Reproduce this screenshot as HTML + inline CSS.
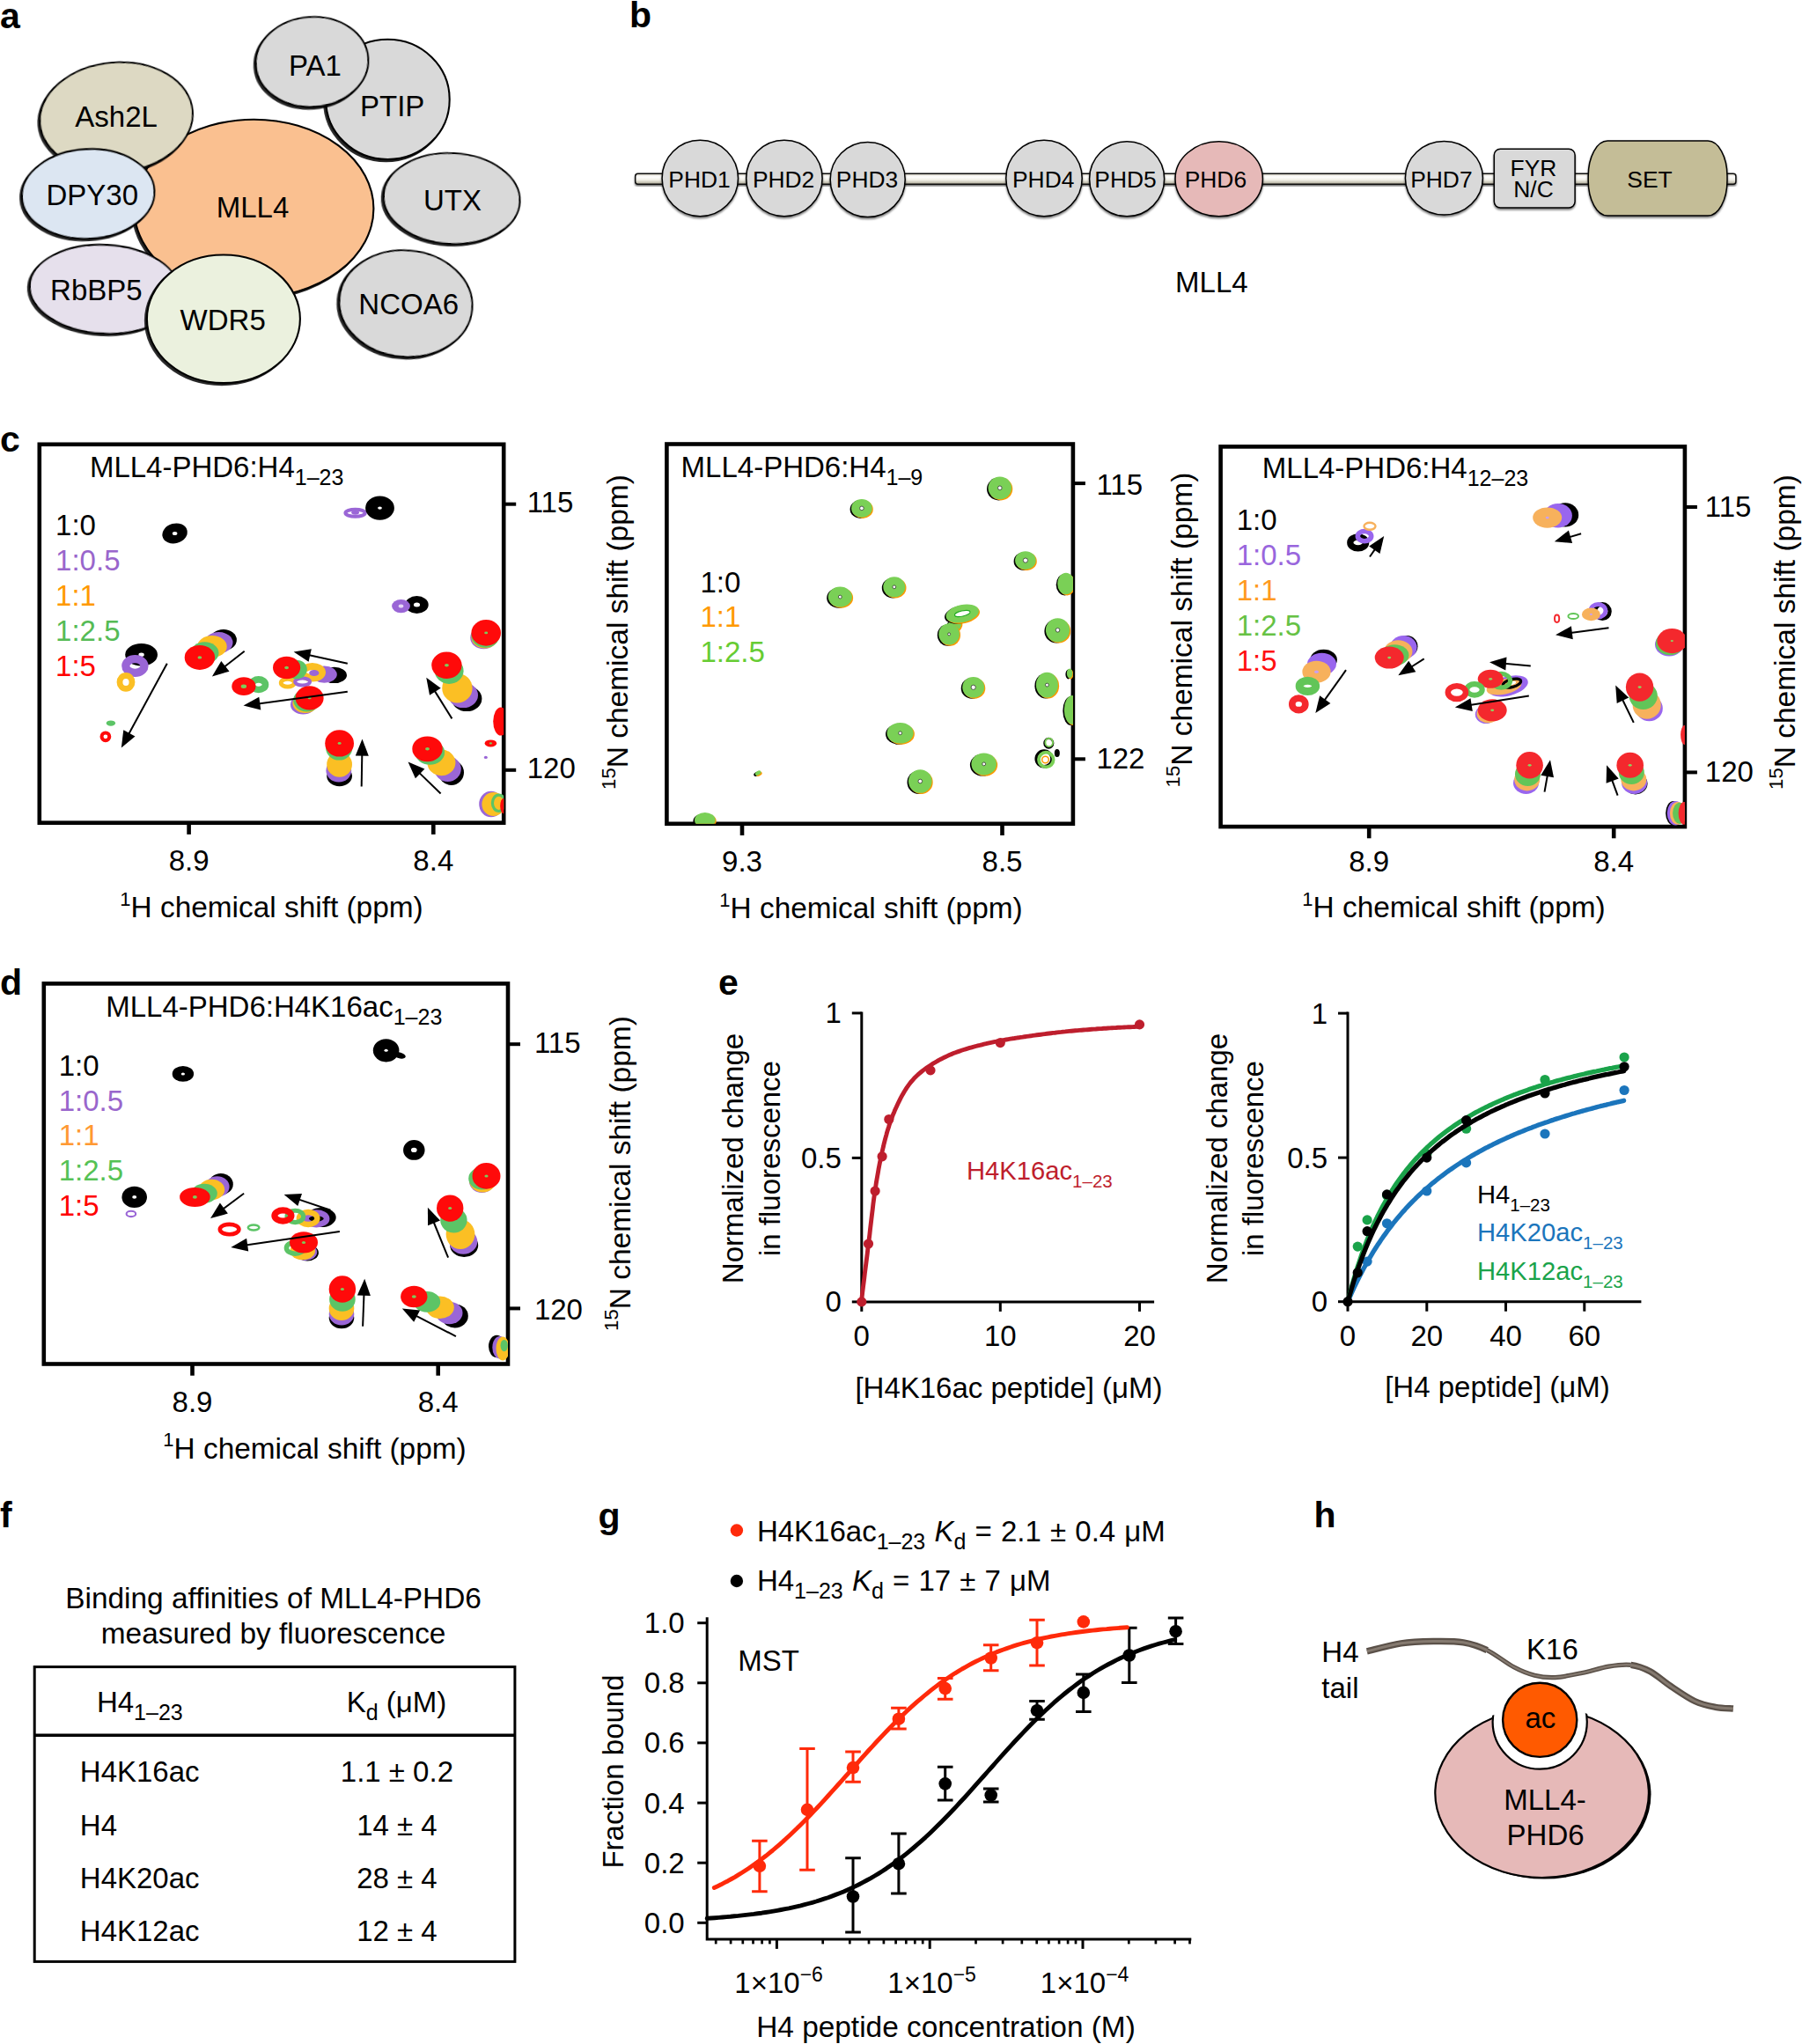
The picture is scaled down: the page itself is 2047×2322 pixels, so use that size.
<!DOCTYPE html>
<html><head><meta charset="utf-8"><title>Figure</title>
<style>html,body{margin:0;padding:0;background:#fff}svg{display:block}text{font-family:"Liberation Sans", sans-serif}</style>
</head><body>
<svg width="2047" height="2322" viewBox="0 0 2047 2322">
<defs>
<filter id="sh" x="-10%" y="-10%" width="120%" height="120%"><feDropShadow dx="-1.9" dy="2" stdDeviation="0.7" flood-color="#000" flood-opacity="0.85"/></filter>
<filter id="sh2" x="-10%" y="-20%" width="120%" height="140%"><feDropShadow dx="0" dy="1.8" stdDeviation="1.2" flood-color="#000" flood-opacity="0.55"/></filter>
<linearGradient id="bar" x1="0" y1="0" x2="0" y2="1"><stop offset="0" stop-color="#cfcabb"/><stop offset="0.3" stop-color="#ffffff"/><stop offset="0.6" stop-color="#f1efe6"/><stop offset="1" stop-color="#aaa693"/></linearGradient>
</defs>
<rect width="2047" height="2322" fill="#fff"/>

<g id="panel_a">
<g stroke="#000" stroke-width="2.1">
<ellipse filter="url(#sh)" cx="288.4" cy="236.9" rx="136" ry="101.2" fill="#FAC090"/>
<ellipse filter="url(#sh)" cx="132.1" cy="133.2" rx="87" ry="62.2" fill="#DDD9C3" transform="rotate(-5 132.1 133.2)"/>
<ellipse filter="url(#sh)" cx="100.2" cy="220.2" rx="75.3" ry="50.8" fill="#DCE6F2" transform="rotate(-3 100.2 220.2)"/>
<ellipse filter="url(#sh)" cx="119" cy="328.5" rx="85.2" ry="50.4" fill="#E6E0EC" transform="rotate(3 119 328.5)"/>
<ellipse filter="url(#sh)" cx="253.9" cy="362.3" rx="87" ry="72.8" fill="#EBF1DE"/>
<ellipse filter="url(#sh)" cx="440.4" cy="112.9" rx="70.3" ry="68.2" fill="#D9D9D9"/>
<ellipse filter="url(#sh)" cx="354.5" cy="70.3" rx="63.9" ry="51.1" fill="#D9D9D9" transform="rotate(-4 354.5 70.3)"/>
<ellipse filter="url(#sh)" cx="513.2" cy="225.5" rx="77.4" ry="51.5" fill="#D9D9D9" transform="rotate(3 513.2 225.5)"/>
<ellipse filter="url(#sh)" cx="461" cy="344.9" rx="75.6" ry="60.4" fill="#D9D9D9" transform="rotate(5 461 344.9)"/>
</g>
<text x="358" y="85.9" font-size="33" text-anchor="middle" >PA1</text>
<text x="445.7" y="132.1" font-size="33" text-anchor="middle" >PTIP</text>
<text x="132.1" y="143.8" font-size="33" text-anchor="middle" >Ash2L</text>
<text x="104.8" y="232.6" font-size="33" text-anchor="middle" >DPY30</text>
<text x="287" y="246.8" font-size="33" text-anchor="middle" >MLL4</text>
<text x="513.9" y="238.7" font-size="33" text-anchor="middle" >UTX</text>
<text x="109.4" y="341" font-size="33" text-anchor="middle" >RbBP5</text>
<text x="253.2" y="375.4" font-size="33" text-anchor="middle" >WDR5</text>
<text x="464.2" y="356.9" font-size="33" text-anchor="middle" >NCOA6</text>
</g>
<g id="panel_b">
<rect x="721.7" y="197.2" width="1250.2" height="12.1" rx="3" fill="url(#bar)" stroke="#111" stroke-width="1.5" filter="url(#sh2)"/>
<g stroke="#000" stroke-width="1.5">
<ellipse filter="url(#sh2)" cx="795.3" cy="202.5" rx="43.2" ry="43.2" fill="#D9D9D9"/>
<ellipse filter="url(#sh2)" cx="890.9" cy="202.5" rx="43.2" ry="43.2" fill="#D9D9D9"/>
<ellipse filter="url(#sh2)" cx="985.7" cy="204.1" rx="42.5" ry="42.5" fill="#D9D9D9"/>
<ellipse filter="url(#sh2)" cx="1186" cy="202.5" rx="43.2" ry="43.2" fill="#D9D9D9"/>
<ellipse filter="url(#sh2)" cx="1280.1" cy="203.3" rx="42.5" ry="42.5" fill="#D9D9D9"/>
<ellipse filter="url(#sh2)" cx="1384.7" cy="203.3" rx="49.7" ry="42.5" fill="#E6B9B8"/>
<ellipse filter="url(#sh2)" cx="1640.4" cy="202.2" rx="44" ry="41.7" fill="#D9D9D9"/>
<rect x="1697.3" y="169.2" width="91.8" height="66.8" rx="7" fill="#D9D9D9" filter="url(#sh2)"/>
<rect x="1804.2" y="160.1" width="157.8" height="85" rx="22" ry="40" fill="#C4BD97" filter="url(#sh2)"/>
</g>
<text x="794.5" y="213.2" font-size="26.4" text-anchor="middle" >PHD1</text>
<text x="890.1" y="213.2" font-size="26.4" text-anchor="middle" >PHD2</text>
<text x="985" y="213.2" font-size="26.4" text-anchor="middle" >PHD3</text>
<text x="1185.2" y="213.2" font-size="26.4" text-anchor="middle" >PHD4</text>
<text x="1278.5" y="213.2" font-size="26.4" text-anchor="middle" >PHD5</text>
<text x="1380.9" y="213.2" font-size="26.4" text-anchor="middle" >PHD6</text>
<text x="1637.4" y="213.2" font-size="26.4" text-anchor="middle" >PHD7</text>
<text x="1742" y="200.3" font-size="26.4" text-anchor="middle" >FYR</text>
<text x="1742" y="223.8" font-size="26.4" text-anchor="middle" >N/C</text>
<text x="1874" y="213.2" font-size="26.4" text-anchor="middle" >SET</text>
<text x="1376.4" y="331.5" font-size="33" text-anchor="middle" >MLL4</text>
</g>
<g id="panel_c1">
<rect x="44.8" y="504.8" width="527.4" height="429.9" fill="none" stroke="#000" stroke-width="4.6"/>
<line x1="572.2" y1="572.7" x2="586.2" y2="572.7" stroke="#000" stroke-width="3.9999999999999996"/>
<text x="598.7" y="582.3" font-size="33" >115</text>
<line x1="572.2" y1="874.8" x2="586.2" y2="874.8" stroke="#000" stroke-width="3.9999999999999996"/>
<text x="598.7" y="884.4" font-size="33" >120</text>
<line x1="214.6" y1="934.7" x2="214.6" y2="947.9" stroke="#000" stroke-width="4.6"/>
<text x="214.6" y="989.2" font-size="33" text-anchor="middle" >8.9</text>
<line x1="492.3" y1="934.7" x2="492.3" y2="947.9" stroke="#000" stroke-width="4.6"/>
<text x="492.3" y="989.2" font-size="33" text-anchor="middle" >8.4</text>
<clipPath id="cp1"><rect x="44.8" y="504.8" width="527.4" height="429.9"/></clipPath>
<g clip-path="url(#cp1)">
<ellipse cx="403.6" cy="582.7" rx="11.2" ry="4" fill="none" stroke="#9A66D6" stroke-width="4"/>
<ellipse cx="403.6" cy="582.3" rx="4.4" ry="2.4" fill="#9A66D6"/>
<ellipse cx="431.5" cy="577.1" rx="16.4" ry="13.6" fill="#000"/>
<ellipse cx="431.5" cy="577.1" rx="2.4" ry="1.7" fill="#fff"/>
<ellipse cx="198.6" cy="605.9" rx="14.4" ry="11.2" fill="#000" transform="rotate(-15 198.6 605.9)"/>
<ellipse cx="198.6" cy="605.9" rx="2.8" ry="2" fill="#fff"/>
<ellipse cx="473.5" cy="687" rx="13.2" ry="10" fill="#000"/>
<ellipse cx="473.5" cy="687" rx="3.6" ry="2.5" fill="#fff"/>
<ellipse cx="455.5" cy="688.6" rx="10.4" ry="7.6" fill="#9A66D6"/>
<ellipse cx="455.5" cy="688.6" rx="2.8" ry="2" fill="#e6d8f7"/>
<ellipse cx="549.4" cy="724.5" rx="15.2" ry="12.8" fill="#9A66D6"/>
<ellipse cx="550.6" cy="723.7" rx="15.2" ry="12.8" fill="#FBBF24"/>
<ellipse cx="551.4" cy="722.1" rx="16" ry="13.6" fill="#5CC466"/>
<ellipse cx="552.2" cy="718.9" rx="16.8" ry="14.8" fill="#FF0A0A"/>
<ellipse cx="552.2" cy="718.9" rx="2" ry="1.4" fill="#7CCB5A"/>
<ellipse cx="160.6" cy="743.7" rx="18.4" ry="12.8" fill="#000"/>
<ellipse cx="160.6" cy="743.7" rx="3.2" ry="2.2" fill="#fff"/>
<ellipse cx="153.4" cy="756.5" rx="10.6" ry="7.8" fill="none" stroke="#9A66D6" stroke-width="9.2"/>
<ellipse cx="143" cy="774.9" rx="7" ry="7.4" fill="none" stroke="#FBBF24" stroke-width="6.8"/>
<ellipse cx="253.7" cy="726.9" rx="15.2" ry="12" fill="#000"/>
<ellipse cx="248.5" cy="730.1" rx="16" ry="12" fill="#9A66D6"/>
<ellipse cx="240.9" cy="734.5" rx="16.8" ry="12.4" fill="#FBBF24"/>
<ellipse cx="232.5" cy="741.7" rx="16" ry="12.4" fill="#5CC466"/>
<ellipse cx="226.9" cy="746.9" rx="17.2" ry="14" fill="#FF0A0A"/>
<ellipse cx="226.9" cy="746.9" rx="2.4" ry="1.7" fill="#7CCB5A"/>
<ellipse cx="379.6" cy="766.9" rx="14.4" ry="9.2" fill="#000"/>
<ellipse cx="368.4" cy="766.1" rx="14.4" ry="9.6" fill="#9A66D6"/>
<ellipse cx="354.8" cy="763.7" rx="11" ry="6.6" fill="none" stroke="#FBBF24" stroke-width="8.4"/>
<ellipse cx="356.8" cy="764.5" rx="5.6" ry="3.6" fill="#9A66D6"/>
<ellipse cx="326.8" cy="775.7" rx="7.6" ry="4.4" fill="none" stroke="#FBBF24" stroke-width="4.8"/>
<ellipse cx="343.6" cy="774.5" rx="8.4" ry="4" fill="none" stroke="#9A66D6" stroke-width="4"/>
<ellipse cx="336.8" cy="760.5" rx="12" ry="10.8" fill="#5CC466"/>
<ellipse cx="325.6" cy="758.5" rx="15.6" ry="12.8" fill="#FF0A0A"/>
<ellipse cx="325.6" cy="758.5" rx="2.4" ry="1.7" fill="#7CCB5A"/>
<ellipse cx="293.7" cy="777.7" rx="7.8" ry="5.8" fill="none" stroke="#5CC466" stroke-width="7.6"/>
<ellipse cx="276.9" cy="779.7" rx="13.6" ry="10.4" fill="#FF0A0A"/>
<ellipse cx="276.9" cy="779.7" rx="3.2" ry="2.2" fill="#7CCB5A"/>
<ellipse cx="344.4" cy="800.4" rx="14.4" ry="11.2" fill="#9A66D6"/>
<ellipse cx="346.8" cy="798.8" rx="14.4" ry="11.2" fill="#FBBF24"/>
<ellipse cx="348.4" cy="795.6" rx="15.2" ry="12.8" fill="#5CC466"/>
<ellipse cx="351.6" cy="792.9" rx="16" ry="13.6" fill="#FF0A0A"/>
<ellipse cx="351.6" cy="792.9" rx="2" ry="1.4" fill="#7CCB5A"/>
<ellipse cx="530.2" cy="793.7" rx="17.2" ry="14.4" fill="#000"/>
<ellipse cx="526.2" cy="789.7" rx="16.8" ry="14.4" fill="#9A66D6"/>
<ellipse cx="519.4" cy="781.7" rx="17.2" ry="16.8" fill="#FBBF24"/>
<ellipse cx="510.2" cy="762.1" rx="16.4" ry="14.8" fill="#5CC466"/>
<ellipse cx="507.4" cy="755.7" rx="17.2" ry="15.2" fill="#FF0A0A"/>
<ellipse cx="507.4" cy="755.7" rx="2.4" ry="1.7" fill="#7CCB5A"/>
<ellipse cx="125.9" cy="821.6" rx="5.2" ry="3.2" fill="#5CC466"/>
<ellipse cx="119.9" cy="836.8" rx="4.4" ry="4.4" fill="none" stroke="#FF0A0A" stroke-width="4"/>
<ellipse cx="385.6" cy="881.6" rx="14.4" ry="11.6" fill="#000"/>
<ellipse cx="384.8" cy="875.6" rx="14.4" ry="12.8" fill="#9A66D6"/>
<ellipse cx="385.6" cy="868.4" rx="14.4" ry="14.4" fill="#FBBF24"/>
<ellipse cx="385.2" cy="849.2" rx="15.2" ry="14.4" fill="#5CC466"/>
<ellipse cx="385.6" cy="844.4" rx="16.4" ry="15.2" fill="#FF0A0A"/>
<ellipse cx="385.6" cy="844.4" rx="2" ry="1.4" fill="#7CCB5A"/>
<ellipse cx="512.6" cy="877.6" rx="14.4" ry="14.4" fill="#000"/>
<ellipse cx="508.6" cy="873.6" rx="15.2" ry="14.4" fill="#9A66D6"/>
<ellipse cx="501.4" cy="866.4" rx="16" ry="14.8" fill="#FBBF24"/>
<ellipse cx="488.3" cy="854.8" rx="16.8" ry="14" fill="#5CC466"/>
<ellipse cx="485.5" cy="850.8" rx="17.2" ry="14.4" fill="#FF0A0A"/>
<ellipse cx="485.5" cy="850.8" rx="2.4" ry="1.7" fill="#7CCB5A"/>
<ellipse cx="569" cy="819.6" rx="8.8" ry="16" fill="#FF0A0A"/>
<ellipse cx="557.4" cy="844.4" rx="6.8" ry="4" fill="#FF0A0A"/>
<ellipse cx="557.4" cy="844.4" rx="1.6" ry="1.1" fill="#7CCB5A"/>
<ellipse cx="551.8" cy="860.4" rx="2" ry="1.6" fill="#9A66D6"/>
<ellipse cx="557.8" cy="913.5" rx="13.6" ry="14.8" fill="#9A66D6"/>
<ellipse cx="560.6" cy="913.5" rx="13.2" ry="13.6" fill="#FBBF24"/>
<ellipse cx="566.6" cy="912.3" rx="7.2" ry="9.2" fill="none" stroke="#5CC466" stroke-width="3.2"/>
<ellipse cx="572.2" cy="915.5" rx="4" ry="8.8" fill="#FF0A0A"/>
</g>
<line x1="189.8" y1="753.7" x2="145.9" y2="834.6" stroke="#000" stroke-width="2"/>
<polygon points="137.8,849.6 140.3,829.3 153.5,836.5" fill="#000"/>
<line x1="277.7" y1="739.7" x2="254.3" y2="758" stroke="#000" stroke-width="2"/>
<polygon points="240.9,768.5 251.3,750.9 260.5,762.7" fill="#000"/>
<line x1="394.8" y1="753.7" x2="350.2" y2="744.1" stroke="#000" stroke-width="2"/>
<polygon points="333.6,740.5 353.8,737.2 350.6,751.8" fill="#000"/>
<line x1="394.8" y1="785.7" x2="293.3" y2="799.4" stroke="#000" stroke-width="2"/>
<polygon points="276.5,801.6 294.3,791.7 296.3,806.5" fill="#000"/>
<line x1="513.4" y1="816.4" x2="493.3" y2="784.1" stroke="#000" stroke-width="2"/>
<polygon points="484.3,769.7 500.7,781.8 488,789.8" fill="#000"/>
<line x1="410.7" y1="893.5" x2="411.3" y2="856.6" stroke="#000" stroke-width="2"/>
<polygon points="411.5,839.6 418.8,858.7 403.8,858.5" fill="#000"/>
<line x1="500.6" y1="901.5" x2="475.7" y2="877.4" stroke="#000" stroke-width="2"/>
<polygon points="463.5,865.6 482.4,873.4 471.9,884.2" fill="#000"/>
<text x="101.9" y="541.9" font-size="33" >MLL4-PHD6:H4<tspan font-size="25" dy="9">1–23</tspan><tspan dy="-9" font-size="1">&#8203;</tspan></text>
<text x="63.1" y="608.1" font-size="33" >1:0</text>
<text x="63.1" y="648" font-size="33" fill="#9966CC" >1:0.5</text>
<text x="63.1" y="688" font-size="33" fill="#FF9900" >1:1</text>
<text x="63.1" y="727.9" font-size="33" fill="#55BB55" >1:2.5</text>
<text x="63.1" y="767.9" font-size="33" fill="#FF0000" >1:5</text>
<text font-size="33.4" text-anchor="middle" x="308.5" y="1042.2"><tspan font-size="22" dy="-13.5">1</tspan><tspan dy="13.5" font-size="1">&#8203;</tspan>H chemical shift (ppm)</text>
<text font-size="33.5" text-anchor="middle" transform="translate(712.5 718) rotate(-90)"><tspan font-size="22.1" dy="-13.5">15</tspan><tspan dy="13.5" font-size="1">&#8203;</tspan>N chemical shift (ppm)</text>
</g>
<g id="panel_c2">
<rect x="757.4" y="504.5" width="461.5" height="431.3" fill="none" stroke="#000" stroke-width="4.6"/>
<line x1="1218.9" y1="549.1" x2="1232.9" y2="549.1" stroke="#000" stroke-width="3.9999999999999996"/>
<text x="1245.4" y="561.5" font-size="33" >115</text>
<line x1="1218.9" y1="862.3" x2="1232.9" y2="862.3" stroke="#000" stroke-width="3.9999999999999996"/>
<text x="1245.4" y="872.5" font-size="33" >122</text>
<line x1="843" y1="935.8" x2="843" y2="949" stroke="#000" stroke-width="4.6"/>
<text x="843" y="990.3" font-size="33" text-anchor="middle" >9.3</text>
<line x1="1138.5" y1="935.8" x2="1138.5" y2="949" stroke="#000" stroke-width="4.6"/>
<text x="1138.5" y="990.3" font-size="33" text-anchor="middle" >8.5</text>
<clipPath id="cp2"><rect x="757.4" y="504.5" width="461.5" height="431.3"/></clipPath>
<g clip-path="url(#cp2)">
<ellipse cx="1134.3" cy="555.5" rx="13.3" ry="12.9" fill="#000"/>
<ellipse cx="1137" cy="555.5" rx="13.3" ry="12.9" fill="#FF9900"/>
<ellipse cx="1135.8" cy="554.3" rx="13.3" ry="12.9" fill="#7AD056"/>
<circle cx="1135.8" cy="554.3" r="2.3" fill="#fff" stroke="#333" stroke-width="0.8"/>
<ellipse cx="977.4" cy="578.5" rx="11.8" ry="10.4" fill="#000"/>
<ellipse cx="980" cy="578.5" rx="11.8" ry="10.4" fill="#FF9900"/>
<ellipse cx="978.9" cy="577.4" rx="11.8" ry="10.4" fill="#7AD056"/>
<circle cx="978.9" cy="577.4" r="2.3" fill="#fff" stroke="#333" stroke-width="0.8"/>
<ellipse cx="1163.4" cy="637.7" rx="11.8" ry="10.4" fill="#000"/>
<ellipse cx="1166" cy="637.7" rx="11.8" ry="10.4" fill="#FF9900"/>
<ellipse cx="1164.9" cy="636.6" rx="11.8" ry="10.4" fill="#7AD056"/>
<circle cx="1164.9" cy="636.6" r="2.6" fill="#fff" stroke="#333" stroke-width="0.8"/>
<ellipse cx="1209.4" cy="664.2" rx="9.7" ry="12.2" fill="#000"/>
<ellipse cx="1212.1" cy="664.2" rx="9.7" ry="12.2" fill="#FF9900"/>
<ellipse cx="1210.9" cy="663" rx="9.7" ry="12.2" fill="#7AD056"/>
<ellipse cx="1014.3" cy="667.9" rx="12.5" ry="11.5" fill="#000"/>
<ellipse cx="1017" cy="667.9" rx="12.5" ry="11.5" fill="#FF9900"/>
<ellipse cx="1015.8" cy="666.8" rx="12.5" ry="11.5" fill="#7AD056"/>
<circle cx="1015.8" cy="666.8" r="1.9" fill="#fff" stroke="#333" stroke-width="0.8"/>
<ellipse cx="952.8" cy="679.2" rx="13.6" ry="11.5" fill="#000"/>
<ellipse cx="955.5" cy="679.2" rx="13.6" ry="11.5" fill="#FF9900"/>
<ellipse cx="954.3" cy="678.1" rx="13.6" ry="11.5" fill="#7AD056"/>
<circle cx="954.3" cy="678.1" r="1.9" fill="#fff" stroke="#333" stroke-width="0.8"/>
<ellipse cx="1083" cy="710.6" rx="7.2" ry="9.3" fill="#000" transform="rotate(30 1083 710.6)"/>
<ellipse cx="1085.7" cy="710.6" rx="7.2" ry="9.3" fill="#FF9900" transform="rotate(30 1085.7 710.6)"/>
<ellipse cx="1084.5" cy="709.4" rx="7.2" ry="9.3" fill="#7AD056" transform="rotate(30 1084.5 709.4)"/>
<ellipse cx="1091.7" cy="698.1" rx="19" ry="10" fill="#000" transform="rotate(-12 1091.7 698.1)"/>
<ellipse cx="1094.3" cy="698.1" rx="19" ry="10" fill="#FF9900" transform="rotate(-12 1094.3 698.1)"/>
<ellipse cx="1093.2" cy="697" rx="19" ry="10" fill="#7AD056" transform="rotate(-12 1093.2 697)"/>
<ellipse cx="1076.6" cy="721.5" rx="11.8" ry="12.2" fill="#000"/>
<ellipse cx="1079.2" cy="721.5" rx="11.8" ry="12.2" fill="#FF9900"/>
<ellipse cx="1078.1" cy="720.4" rx="11.8" ry="12.2" fill="#7AD056"/>
<circle cx="1078.1" cy="720.4" r="1.5" fill="#fff" stroke="#333" stroke-width="0.8"/>
<ellipse cx="1200" cy="717" rx="13.6" ry="13.6" fill="#000"/>
<ellipse cx="1202.6" cy="717" rx="13.6" ry="13.6" fill="#FF9900"/>
<ellipse cx="1201.5" cy="715.8" rx="13.6" ry="13.6" fill="#7AD056"/>
<circle cx="1201.5" cy="715.8" r="2.3" fill="#fff" stroke="#333" stroke-width="0.8"/>
<ellipse cx="1104.2" cy="781.9" rx="12.5" ry="11.8" fill="#000"/>
<ellipse cx="1106.8" cy="781.9" rx="12.5" ry="11.8" fill="#FF9900"/>
<ellipse cx="1105.7" cy="780.8" rx="12.5" ry="11.8" fill="#7AD056"/>
<circle cx="1105.7" cy="780.8" r="2.6" fill="#fff" stroke="#333" stroke-width="0.8"/>
<ellipse cx="1187.9" cy="779.2" rx="12.5" ry="14.3" fill="#000"/>
<ellipse cx="1190.6" cy="779.2" rx="12.5" ry="14.3" fill="#FF9900"/>
<ellipse cx="1189.4" cy="778.1" rx="12.5" ry="14.3" fill="#7AD056"/>
<circle cx="1189.4" cy="778.1" r="1.9" fill="#fff" stroke="#333" stroke-width="0.8"/>
<ellipse cx="1213.6" cy="766" rx="3.2" ry="5.4" fill="#000"/>
<ellipse cx="1216.2" cy="766" rx="3.2" ry="5.4" fill="#FF9900"/>
<ellipse cx="1215.1" cy="764.9" rx="3.2" ry="5.4" fill="#7AD056"/>
<ellipse cx="1216.6" cy="807.5" rx="9.3" ry="16.5" fill="#000"/>
<ellipse cx="1219.2" cy="807.5" rx="9.3" ry="16.5" fill="#FF9900"/>
<ellipse cx="1218.1" cy="806.4" rx="9.3" ry="16.5" fill="#7AD056"/>
<ellipse cx="1021.1" cy="834" rx="15.1" ry="11.8" fill="#000"/>
<ellipse cx="1023.8" cy="834" rx="15.1" ry="11.8" fill="#FF9900"/>
<ellipse cx="1022.6" cy="832.8" rx="15.1" ry="11.8" fill="#7AD056"/>
<circle cx="1022.6" cy="832.8" r="1.9" fill="#fff" stroke="#333" stroke-width="0.8"/>
<ellipse cx="1116.2" cy="869.1" rx="14.3" ry="12.5" fill="#000"/>
<ellipse cx="1118.9" cy="869.1" rx="14.3" ry="12.5" fill="#FF9900"/>
<ellipse cx="1117.7" cy="867.9" rx="14.3" ry="12.5" fill="#7AD056"/>
<circle cx="1117.7" cy="867.9" r="1.9" fill="#fff" stroke="#333" stroke-width="0.8"/>
<ellipse cx="1043.8" cy="888.7" rx="13.3" ry="13.3" fill="#000"/>
<ellipse cx="1046.4" cy="888.7" rx="13.3" ry="13.3" fill="#FF9900"/>
<ellipse cx="1045.3" cy="887.5" rx="13.3" ry="13.3" fill="#7AD056"/>
<circle cx="1045.3" cy="887.5" r="2.3" fill="#fff" stroke="#333" stroke-width="0.8"/>
<ellipse cx="859.6" cy="879.2" rx="3.6" ry="2.2" fill="#000" transform="rotate(-30 859.6 879.2)"/>
<ellipse cx="862.3" cy="879.2" rx="3.6" ry="2.2" fill="#FF9900" transform="rotate(-30 862.3 879.2)"/>
<ellipse cx="861.1" cy="878.1" rx="3.6" ry="2.2" fill="#7AD056" transform="rotate(-30 861.1 878.1)"/>
<ellipse cx="799.2" cy="932.8" rx="11.8" ry="8.6" fill="#000"/>
<ellipse cx="801.9" cy="932.8" rx="11.8" ry="8.6" fill="#FF9900"/>
<ellipse cx="800.8" cy="931.7" rx="11.8" ry="8.6" fill="#7AD056"/>
<ellipse cx="1093.2" cy="697" rx="9" ry="3" fill="#fff" stroke="#2a2" stroke-width="1" transform="rotate(-12 1093.2 697)"/>
<ellipse cx="1186" cy="861.9" rx="8.9" ry="8.9" fill="none" stroke="#000" stroke-width="3.4"/>
<ellipse cx="1188.3" cy="863" rx="8.3" ry="8.3" fill="none" stroke="#7AD056" stroke-width="3.8"/>
<ellipse cx="1187.5" cy="863" rx="3.8" ry="3.8" fill="none" stroke="#FF9900" stroke-width="1.5"/>
<ellipse cx="1191.3" cy="844.2" rx="4.9" ry="5.3" fill="none" stroke="#000" stroke-width="2.3"/>
<ellipse cx="1191.7" cy="843.4" rx="4.3" ry="4.7" fill="none" stroke="#7AD056" stroke-width="1.9"/>
<ellipse cx="1200.8" cy="855.5" rx="3" ry="4.5" fill="#000"/>
</g>
<text x="773.6" y="542.3" font-size="33" >MLL4-PHD6:H4<tspan font-size="25" dy="9">1–9</tspan><tspan dy="-9" font-size="1">&#8203;</tspan></text>
<text x="795.4" y="672.7" font-size="33" >1:0</text>
<text x="795.4" y="711.9" font-size="33" fill="#FF9900" >1:1</text>
<text x="795.4" y="751.9" font-size="33" fill="#66CC33" >1:2.5</text>
<text font-size="33.4" text-anchor="middle" x="989.5" y="1043.2"><tspan font-size="22" dy="-13.5">1</tspan><tspan dy="13.5" font-size="1">&#8203;</tspan>H chemical shift (ppm)</text>
<text font-size="33.5" text-anchor="middle" transform="translate(1353.5 715.5) rotate(-90)"><tspan font-size="22.1" dy="-13.5">15</tspan><tspan dy="13.5" font-size="1">&#8203;</tspan>N chemical shift (ppm)</text>
</g>
<g id="panel_c3">
<rect x="1386.6" y="507.4" width="527.3" height="431.7" fill="none" stroke="#000" stroke-width="4.6"/>
<line x1="1913.9" y1="576" x2="1927.9" y2="576" stroke="#000" stroke-width="3.9999999999999996"/>
<text x="1936.8" y="586.6" font-size="33" >115</text>
<line x1="1913.9" y1="877.4" x2="1927.9" y2="877.4" stroke="#000" stroke-width="3.9999999999999996"/>
<text x="1936.8" y="887.5" font-size="33" >120</text>
<line x1="1555.2" y1="939.1" x2="1555.2" y2="952.3" stroke="#000" stroke-width="4.6"/>
<text x="1555.2" y="990.4" font-size="33" text-anchor="middle" >8.9</text>
<line x1="1833.2" y1="939.1" x2="1833.2" y2="952.3" stroke="#000" stroke-width="4.6"/>
<text x="1833.2" y="990.4" font-size="33" text-anchor="middle" >8.4</text>
<clipPath id="cp3"><rect x="1386.6" y="507.4" width="527.3" height="431.7"/></clipPath>
<g clip-path="url(#cp3)">
<ellipse cx="1542.7" cy="616.4" rx="8.9" ry="6.5" fill="none" stroke="#000" stroke-width="7.3"/>
<ellipse cx="1550" cy="609.1" rx="7.7" ry="5.6" fill="none" stroke="#9966EE" stroke-width="5.6"/>
<ellipse cx="1556" cy="597.8" rx="6.5" ry="4" fill="none" stroke="#F7B15C" stroke-width="2.4"/>
<ellipse cx="1777.9" cy="584.9" rx="15.3" ry="13.7" fill="#000"/>
<ellipse cx="1769.8" cy="585.7" rx="16.1" ry="13.7" fill="#9966EE"/>
<ellipse cx="1757.7" cy="588.1" rx="16.5" ry="11.7" fill="#F7B15C"/>
<ellipse cx="1757.7" cy="588.1" rx="2" ry="1.4" fill="#c9a0f0"/>
<ellipse cx="1820.3" cy="694.6" rx="8.3" ry="8.3" fill="none" stroke="#000" stroke-width="4.4"/>
<ellipse cx="1815.4" cy="693.8" rx="8.5" ry="7.3" fill="none" stroke="#9966EE" stroke-width="4.8"/>
<ellipse cx="1807.4" cy="697.9" rx="10.5" ry="7.3" fill="#F7B15C"/>
<ellipse cx="1807.4" cy="697.9" rx="1.6" ry="1.1" fill="#c9a0f0"/>
<ellipse cx="1787.2" cy="699.9" rx="5.8" ry="3" fill="none" stroke="#62C558" stroke-width="2"/>
<ellipse cx="1768.6" cy="702.7" rx="2.6" ry="4.2" fill="none" stroke="#F4282D" stroke-width="2"/>
<ellipse cx="1896.1" cy="732.2" rx="16.1" ry="13.3" fill="#9966EE"/>
<ellipse cx="1896.9" cy="730.9" rx="16.1" ry="13.3" fill="#62C558"/>
<ellipse cx="1899.3" cy="728.1" rx="16.9" ry="14.1" fill="#F4282D"/>
<ellipse cx="1899.3" cy="728.1" rx="1.6" ry="1.1" fill="#8fd060"/>
<ellipse cx="1503.6" cy="749.5" rx="15.3" ry="11.7" fill="#000"/>
<ellipse cx="1501.5" cy="754.3" rx="16.5" ry="12.5" fill="#9966EE"/>
<ellipse cx="1495.5" cy="763.2" rx="16.1" ry="12.5" fill="#F7B15C"/>
<ellipse cx="1495.5" cy="763.2" rx="2.4" ry="1.7" fill="#c9a0f0"/>
<ellipse cx="1485.4" cy="779.4" rx="9.3" ry="6.1" fill="none" stroke="#62C558" stroke-width="8.9"/>
<ellipse cx="1475.3" cy="799.9" rx="7.5" ry="6.7" fill="none" stroke="#F4282D" stroke-width="7.7"/>
<ellipse cx="1598.4" cy="734.2" rx="12.1" ry="12.1" fill="#000"/>
<ellipse cx="1594.3" cy="735.4" rx="15.3" ry="13.3" fill="#9966EE"/>
<ellipse cx="1588.3" cy="740.2" rx="16.1" ry="12.9" fill="#F7B15C"/>
<ellipse cx="1584.3" cy="744.3" rx="16.1" ry="12.1" fill="#62C558"/>
<ellipse cx="1578.2" cy="747.1" rx="16.5" ry="12.5" fill="#F4282D"/>
<ellipse cx="1578.2" cy="747.1" rx="2" ry="1.4" fill="#8fd060"/>
<ellipse cx="1713.4" cy="779.4" rx="23" ry="10.9" fill="#9966EE" transform="rotate(-15 1713.4 779.4)"/>
<ellipse cx="1708.5" cy="780.2" rx="20.2" ry="8.5" fill="#F7B15C" transform="rotate(-12 1708.5 780.2)"/>
<ellipse cx="1717.4" cy="776.1" rx="10.5" ry="4.4" fill="none" stroke="#000" stroke-width="3.2" transform="rotate(-15 1717.4 776.1)"/>
<ellipse cx="1717.4" cy="776.1" rx="4.8" ry="2" fill="#fff" transform="rotate(-15 1717.4 776.1)"/>
<ellipse cx="1705.3" cy="773.3" rx="10.3" ry="7.9" fill="none" stroke="#62C558" stroke-width="5.2"/>
<ellipse cx="1693.2" cy="771.3" rx="14.5" ry="10.5" fill="#F4282D"/>
<ellipse cx="1693.2" cy="771.3" rx="2" ry="1.4" fill="#8fd060"/>
<ellipse cx="1675" cy="783.4" rx="8.7" ry="6.3" fill="none" stroke="#62C558" stroke-width="6.1"/>
<ellipse cx="1654.9" cy="786.6" rx="10.1" ry="7.3" fill="none" stroke="#F4282D" stroke-width="6.5"/>
<ellipse cx="1687.9" cy="811.6" rx="12.1" ry="10.5" fill="#9966EE"/>
<ellipse cx="1690.4" cy="810.8" rx="12.9" ry="10.5" fill="#F7B15C"/>
<ellipse cx="1695.2" cy="806.8" rx="16.5" ry="12.5" fill="#F4282D"/>
<ellipse cx="1695.2" cy="806.8" rx="2" ry="1.4" fill="#8fd060"/>
<ellipse cx="1873.5" cy="804.8" rx="15.3" ry="14.5" fill="#9966EE"/>
<ellipse cx="1870.7" cy="800.7" rx="16.1" ry="16.1" fill="#F7B15C"/>
<ellipse cx="1866.7" cy="790.6" rx="16.1" ry="15.3" fill="#62C558"/>
<ellipse cx="1862.6" cy="780.6" rx="15.7" ry="16.1" fill="#F4282D"/>
<ellipse cx="1862.6" cy="780.6" rx="2" ry="1.4" fill="#8fd060"/>
<ellipse cx="1733.5" cy="889.5" rx="14.5" ry="12.5" fill="#9966EE"/>
<ellipse cx="1734.7" cy="885.5" rx="14.5" ry="12.9" fill="#F7B15C"/>
<ellipse cx="1735.5" cy="879.4" rx="14.5" ry="13.7" fill="#62C558"/>
<ellipse cx="1737.6" cy="869.3" rx="15.3" ry="15.3" fill="#F4282D"/>
<ellipse cx="1737.6" cy="869.3" rx="2" ry="1.4" fill="#8fd060"/>
<ellipse cx="1857.8" cy="890.3" rx="13.7" ry="12.1" fill="#000"/>
<ellipse cx="1856.6" cy="889.5" rx="14.5" ry="12.5" fill="#9966EE"/>
<ellipse cx="1855.8" cy="885.5" rx="14.5" ry="12.9" fill="#F7B15C"/>
<ellipse cx="1853.3" cy="877.4" rx="14.5" ry="13.7" fill="#62C558"/>
<ellipse cx="1851.7" cy="869.3" rx="15.3" ry="14.5" fill="#F4282D"/>
<ellipse cx="1851.7" cy="869.3" rx="2" ry="1.4" fill="#8fd060"/>
<ellipse cx="1913.9" cy="835" rx="4.8" ry="11.3" fill="#F4282D"/>
<ellipse cx="1901" cy="923.8" rx="8.9" ry="13.7" fill="#000"/>
<ellipse cx="1903.4" cy="923.8" rx="9.7" ry="13.7" fill="#9966EE"/>
<ellipse cx="1905.8" cy="923.8" rx="8.9" ry="12.9" fill="#F7B15C"/>
<ellipse cx="1908.2" cy="923.8" rx="8.1" ry="12.1" fill="#62C558"/>
<ellipse cx="1913.1" cy="923.8" rx="6.5" ry="12.9" fill="#F4282D"/>
</g>
<line x1="1556" y1="632.5" x2="1562.5" y2="623.1" stroke="#000" stroke-width="2"/>
<polygon points="1572.2,609.1 1567.5,629 1555.2,620.5" fill="#000"/>
<line x1="1796.1" y1="606.3" x2="1782.1" y2="610.4" stroke="#000" stroke-width="2"/>
<polygon points="1765.8,615.2 1781.9,602.6 1786.1,617" fill="#000"/>
<line x1="1827.5" y1="713.2" x2="1783.9" y2="719" stroke="#000" stroke-width="2"/>
<polygon points="1767,721.3 1784.9,711.3 1786.8,726.2" fill="#000"/>
<line x1="1617.7" y1="748.3" x2="1602.6" y2="758" stroke="#000" stroke-width="2"/>
<polygon points="1588.3,767.2 1600.2,750.7 1608.3,763.3" fill="#000"/>
<line x1="1529" y1="761.2" x2="1504.1" y2="796.2" stroke="#000" stroke-width="2"/>
<polygon points="1494.3,810 1499.2,790.2 1511.4,798.9" fill="#000"/>
<line x1="1738.8" y1="756.4" x2="1708.9" y2="753.8" stroke="#000" stroke-width="2"/>
<polygon points="1692,752.3 1711.5,746.5 1710.3,761.4" fill="#000"/>
<line x1="1736.8" y1="790.6" x2="1669.6" y2="801" stroke="#000" stroke-width="2"/>
<polygon points="1652.8,803.6 1670.5,793.3 1672.8,808.1" fill="#000"/>
<line x1="1855.8" y1="820.9" x2="1842.6" y2="793.8" stroke="#000" stroke-width="2"/>
<polygon points="1835.2,778.5 1850.2,792.4 1836.7,798.9" fill="#000"/>
<line x1="1754.5" y1="899.6" x2="1758" y2="880" stroke="#000" stroke-width="2"/>
<polygon points="1761,863.3 1765,883.3 1750.3,880.7" fill="#000"/>
<line x1="1837.6" y1="903.6" x2="1830.9" y2="885.3" stroke="#000" stroke-width="2"/>
<polygon points="1825.1,869.3 1838.7,884.6 1824.6,889.7" fill="#000"/>
<text x="1433.8" y="542.5" font-size="33" >MLL4-PHD6:H4<tspan font-size="25" dy="9">12–23</tspan><tspan dy="-9" font-size="1">&#8203;</tspan></text>
<text x="1404.7" y="602" font-size="33" >1:0</text>
<text x="1404.7" y="641.6" font-size="33" fill="#9966DD" >1:0.5</text>
<text x="1404.7" y="681.5" font-size="33" fill="#FF9A1F" >1:1</text>
<text x="1404.7" y="721.9" font-size="33" fill="#66C244" >1:2.5</text>
<text x="1404.7" y="762.2" font-size="33" fill="#FF1010" >1:5</text>
<text font-size="33.4" text-anchor="middle" x="1651.5" y="1042.2"><tspan font-size="22" dy="-13.5">1</tspan><tspan dy="13.5" font-size="1">&#8203;</tspan>H chemical shift (ppm)</text>
<text font-size="33.5" text-anchor="middle" transform="translate(2038.5 718) rotate(-90)"><tspan font-size="22.1" dy="-13.5">15</tspan><tspan dy="13.5" font-size="1">&#8203;</tspan>N chemical shift (ppm)</text>
</g>
<g id="panel_d">
<rect x="49.8" y="1117.4" width="527.2" height="432.1" fill="none" stroke="#000" stroke-width="4.6"/>
<line x1="577" y1="1186.2" x2="591" y2="1186.2" stroke="#000" stroke-width="3.9999999999999996"/>
<text x="606.9" y="1196.3" font-size="33" >115</text>
<line x1="577" y1="1486.4" x2="591" y2="1486.4" stroke="#000" stroke-width="3.9999999999999996"/>
<text x="606.9" y="1498.6" font-size="33" >120</text>
<line x1="218.5" y1="1549.5" x2="218.5" y2="1562.7" stroke="#000" stroke-width="4.6"/>
<text x="218.5" y="1604" font-size="33" text-anchor="middle" >8.9</text>
<line x1="497.7" y1="1549.5" x2="497.7" y2="1562.7" stroke="#000" stroke-width="4.6"/>
<text x="497.7" y="1604" font-size="33" text-anchor="middle" >8.4</text>
<clipPath id="cp4"><rect x="49.8" y="1117.4" width="527.2" height="432.1"/></clipPath>
<g clip-path="url(#cp4)">
<ellipse cx="438.6" cy="1193.3" rx="14.8" ry="13.1" fill="#000"/>
<ellipse cx="438.6" cy="1193.3" rx="2.1" ry="1.5" fill="#fff"/>
<ellipse cx="453.4" cy="1198.8" rx="7.6" ry="3.4" fill="#000" transform="rotate(15 453.4 1198.8)"/>
<ellipse cx="207.9" cy="1219.9" rx="12.2" ry="8.9" fill="#000"/>
<ellipse cx="207.9" cy="1219.9" rx="2.1" ry="1.5" fill="#fff"/>
<ellipse cx="470.3" cy="1306.4" rx="7.8" ry="7" fill="none" stroke="#000" stroke-width="8.9"/>
<ellipse cx="547.4" cy="1342.2" rx="14.3" ry="12.7" fill="#9A66D6"/>
<ellipse cx="548.3" cy="1340.9" rx="15.2" ry="13.5" fill="#FBBF24"/>
<ellipse cx="547.4" cy="1338.8" rx="15.2" ry="12.7" fill="#5CC466"/>
<ellipse cx="552.5" cy="1335.9" rx="16" ry="14.8" fill="#FF0A0A"/>
<ellipse cx="552.5" cy="1335.9" rx="2.1" ry="1.5" fill="#7CCB5A"/>
<ellipse cx="152.7" cy="1359.9" rx="14.3" ry="12.2" fill="#000"/>
<ellipse cx="152.7" cy="1359.9" rx="2.5" ry="1.8" fill="#fff"/>
<ellipse cx="148.9" cy="1378.9" rx="5.3" ry="3.2" fill="none" stroke="#9A66D6" stroke-width="2.1"/>
<ellipse cx="250.9" cy="1345.2" rx="13.9" ry="12.2" fill="#000"/>
<ellipse cx="246.7" cy="1348.1" rx="13.9" ry="11.8" fill="#9A66D6"/>
<ellipse cx="240.4" cy="1351.5" rx="14.8" ry="11.8" fill="#FBBF24"/>
<ellipse cx="232" cy="1355.7" rx="14.8" ry="11" fill="#5CC466"/>
<ellipse cx="221.4" cy="1359.9" rx="17.3" ry="11" fill="#FF0A0A"/>
<ellipse cx="221.4" cy="1359.9" rx="2.5" ry="1.8" fill="#7CCB5A"/>
<ellipse cx="364.8" cy="1383.1" rx="16.9" ry="11" fill="#000"/>
<ellipse cx="359.3" cy="1384.4" rx="11.8" ry="6.7" fill="none" stroke="#9A66D6" stroke-width="6.7"/>
<ellipse cx="350.1" cy="1384" rx="10.3" ry="7" fill="none" stroke="#FBBF24" stroke-width="6.3"/>
<ellipse cx="335.3" cy="1381.9" rx="9.3" ry="6.7" fill="none" stroke="#5CC466" stroke-width="5.1"/>
<ellipse cx="321.4" cy="1381" rx="9.5" ry="6.1" fill="none" stroke="#FF0A0A" stroke-width="7.2"/>
<ellipse cx="260.6" cy="1396.6" rx="10.8" ry="5.7" fill="none" stroke="#FF0A0A" stroke-width="4.6"/>
<ellipse cx="288.1" cy="1394.5" rx="6.3" ry="3" fill="none" stroke="#5CC466" stroke-width="2.5"/>
<ellipse cx="349.2" cy="1423.2" rx="12.7" ry="9.3" fill="#000"/>
<ellipse cx="346.7" cy="1422.3" rx="13.5" ry="9.7" fill="#9A66D6"/>
<ellipse cx="343.7" cy="1421.1" rx="14.3" ry="10.1" fill="#FBBF24"/>
<ellipse cx="335.3" cy="1417.7" rx="9.9" ry="6.5" fill="none" stroke="#5CC466" stroke-width="5.5"/>
<ellipse cx="345" cy="1411.4" rx="16" ry="12.2" fill="#FF0A0A"/>
<ellipse cx="345" cy="1411.4" rx="2.1" ry="1.5" fill="#7CCB5A"/>
<ellipse cx="527.2" cy="1414.8" rx="16" ry="13.1" fill="#000"/>
<ellipse cx="526.3" cy="1410.5" rx="16" ry="14.3" fill="#9A66D6"/>
<ellipse cx="523" cy="1402.1" rx="16.4" ry="16.9" fill="#FBBF24"/>
<ellipse cx="515.4" cy="1386.1" rx="15.2" ry="14.3" fill="#5CC466"/>
<ellipse cx="511.2" cy="1372.6" rx="15.2" ry="15.2" fill="#FF0A0A"/>
<ellipse cx="511.2" cy="1372.6" rx="2.1" ry="1.5" fill="#7CCB5A"/>
<ellipse cx="388" cy="1497" rx="14.3" ry="12.2" fill="#000"/>
<ellipse cx="388" cy="1492.8" rx="14.3" ry="12.7" fill="#9A66D6"/>
<ellipse cx="388" cy="1486.4" rx="14.3" ry="13.5" fill="#FBBF24"/>
<ellipse cx="388.9" cy="1475.9" rx="14.8" ry="13.9" fill="#5CC466"/>
<ellipse cx="388.9" cy="1464.5" rx="15.2" ry="15.2" fill="#FF0A0A"/>
<ellipse cx="388.9" cy="1464.5" rx="2.1" ry="1.5" fill="#7CCB5A"/>
<ellipse cx="516.6" cy="1494.9" rx="15.2" ry="13.5" fill="#000"/>
<ellipse cx="510.3" cy="1491.5" rx="15.2" ry="12.7" fill="#9A66D6"/>
<ellipse cx="499.8" cy="1485.2" rx="16" ry="12.7" fill="#FBBF24"/>
<ellipse cx="485" cy="1478.9" rx="15.2" ry="11.8" fill="#5CC466"/>
<ellipse cx="470.3" cy="1473" rx="15.2" ry="12.2" fill="#FF0A0A"/>
<ellipse cx="470.3" cy="1473" rx="2.5" ry="1.8" fill="#7CCB5A"/>
<ellipse cx="564.3" cy="1529.5" rx="9.3" ry="12.7" fill="#000"/>
<ellipse cx="567.7" cy="1530.7" rx="8.4" ry="12.7" fill="#9A66D6"/>
<ellipse cx="571.1" cy="1532" rx="7.6" ry="13.5" fill="#FBBF24"/>
<ellipse cx="572.7" cy="1528.6" rx="4.2" ry="6.7" fill="#5CC466"/>
</g>
<line x1="277.1" y1="1355.7" x2="252.8" y2="1373.8" stroke="#000" stroke-width="2"/>
<polygon points="239.1,1384 249.9,1366.6 258.9,1378.6" fill="#000"/>
<line x1="375.4" y1="1374.7" x2="338.8" y2="1362.4" stroke="#000" stroke-width="2"/>
<polygon points="322.6,1357 343,1355.9 338.3,1370.1" fill="#000"/>
<line x1="385.9" y1="1399.1" x2="279.2" y2="1414.4" stroke="#000" stroke-width="2"/>
<polygon points="262.3,1416.9 280.1,1406.7 282.2,1421.6" fill="#000"/>
<line x1="509.1" y1="1428.7" x2="492.3" y2="1387.5" stroke="#000" stroke-width="2"/>
<polygon points="485.9,1371.7 500,1386.5 486.1,1392.2" fill="#000"/>
<line x1="412.1" y1="1506.7" x2="413.5" y2="1469.7" stroke="#000" stroke-width="2"/>
<polygon points="414.2,1452.7 420.9,1472 405.9,1471.4" fill="#000"/>
<line x1="517.9" y1="1518.1" x2="471.9" y2="1494.3" stroke="#000" stroke-width="2"/>
<polygon points="456.8,1486.4 477.1,1488.5 470.2,1501.8" fill="#000"/>
<text x="120.2" y="1155.4" font-size="33" >MLL4-PHD6:H4K16ac<tspan font-size="25" dy="9">1–23</tspan><tspan dy="-9" font-size="1">&#8203;</tspan></text>
<text x="66.7" y="1221.7" font-size="33" >1:0</text>
<text x="66.7" y="1261.8" font-size="33" fill="#9966CC" >1:0.5</text>
<text x="66.7" y="1301" font-size="33" fill="#FF9933" >1:1</text>
<text x="66.7" y="1340.7" font-size="33" fill="#55C255" >1:2.5</text>
<text x="66.7" y="1381.2" font-size="33" fill="#FF0000" >1:5</text>
<text font-size="33.4" text-anchor="middle" x="357.5" y="1656.7"><tspan font-size="22" dy="-13.5">1</tspan><tspan dy="13.5" font-size="1">&#8203;</tspan>H chemical shift (ppm)</text>
<text font-size="33.5" text-anchor="middle" transform="translate(715.5 1333) rotate(-90)"><tspan font-size="22.1" dy="-13.5">15</tspan><tspan dy="13.5" font-size="1">&#8203;</tspan>N chemical shift (ppm)</text>
</g>
<g id="panel_e1">
<path d="M978.8 1149.4V1478.9H1311.1" fill="none" stroke="#000" stroke-width="3"/>
<line x1="967.8" y1="1150.9" x2="978.8" y2="1150.9" stroke="#000" stroke-width="3"/>
<text x="955.8" y="1162.4" font-size="33" text-anchor="end" >1</text>
<line x1="967.8" y1="1315.4" x2="978.8" y2="1315.4" stroke="#000" stroke-width="3"/>
<text x="955.8" y="1326.9" font-size="33" text-anchor="end" >0.5</text>
<line x1="967.8" y1="1478.9" x2="978.8" y2="1478.9" stroke="#000" stroke-width="3"/>
<text x="955.8" y="1490.4" font-size="33" text-anchor="end" >0</text>
<line x1="978.8" y1="1478.9" x2="978.8" y2="1489.9" stroke="#000" stroke-width="3"/>
<text x="978.8" y="1529.4" font-size="33" text-anchor="middle" >0</text>
<line x1="1136.3" y1="1478.9" x2="1136.3" y2="1489.9" stroke="#000" stroke-width="3"/>
<text x="1136.3" y="1529.4" font-size="33" text-anchor="middle" >10</text>
<line x1="1294.5" y1="1478.9" x2="1294.5" y2="1489.9" stroke="#000" stroke-width="3"/>
<text x="1294.5" y="1529.4" font-size="33" text-anchor="middle" >20</text>
<path d="M978.4 1479.2 L979.1 1473.7 L979.7 1468.3 L980.4 1462.8 L981.1 1457.3 L981.8 1451.8 L982.4 1446.3 L983.1 1440.9 L983.8 1435.4 L984.5 1429.9 L985.2 1424.4 L985.8 1418.9 L986.5 1413.4 L987.2 1407.9 L987.9 1402.2 L988.5 1396.4 L989.2 1390.6 L989.9 1384.7 L990.6 1378.9 L991.3 1373.2 L991.9 1367.7 L992.6 1362.4 L993.3 1357.3 L994 1352.7 L994.7 1348.3 L995.3 1344 L996 1339.9 L996.7 1335.9 L997.4 1332 L998 1328.3 L998.7 1324.6 L999.4 1321.1 L1000.1 1317.8 L1000.8 1314.5 L1001.4 1311.4 L1002.1 1308.3 L1002.8 1305.3 L1003.5 1302.4 L1004.1 1299.6 L1004.8 1296.9 L1005.5 1294.2 L1006.2 1291.6 L1006.9 1289.1 L1007.5 1286.7 L1008.2 1284.4 L1008.9 1282.2 L1009.6 1280 L1010.2 1277.9 L1010.9 1275.9 L1011.6 1274 L1012.3 1272.1 L1013 1270.3 L1013.6 1268.5 L1014.3 1266.7 L1015 1265 L1015.7 1263.4 L1016.3 1261.8 L1017 1260.2 L1017.7 1258.7 L1018.4 1257.2 L1020.7 1252.3 L1023 1247.7 L1025.3 1243.4 L1027.6 1239.5 L1029.9 1235.9 L1032.2 1232.6 L1034.5 1229.5 L1036.9 1226.8 L1039.2 1224.2 L1041.5 1222 L1043.8 1219.9 L1046.1 1218 L1048.4 1216.1 L1050.7 1214.4 L1053 1212.7 L1055.3 1211.2 L1057.6 1209.7 L1060 1208.2 L1062.3 1206.9 L1064.6 1205.5 L1066.9 1204.2 L1069.2 1203 L1071.5 1201.8 L1073.8 1200.7 L1076.1 1199.6 L1078.4 1198.5 L1080.7 1197.6 L1083.1 1196.6 L1085.4 1195.7 L1087.7 1194.9 L1090 1194.1 L1092.3 1193.3 L1094.6 1192.5 L1096.9 1191.8 L1099.2 1191.1 L1101.5 1190.4 L1103.8 1189.8 L1106.1 1189.2 L1108.5 1188.5 L1110.8 1187.9 L1113.1 1187.4 L1115.4 1186.8 L1117.7 1186.2 L1120 1185.7 L1122.3 1185.1 L1124.6 1184.6 L1126.9 1184.1 L1129.2 1183.6 L1131.6 1183.2 L1133.9 1182.7 L1136.2 1182.3 L1138.5 1181.8 L1140.8 1181.4 L1143.1 1181 L1145.4 1180.6 L1147.7 1180.2 L1150 1179.8 L1152.3 1179.5 L1154.6 1179.1 L1157 1178.8 L1159.3 1178.4 L1161.6 1178.1 L1163.9 1177.7 L1166.2 1177.4 L1168.5 1177.1 L1170.8 1176.8 L1173.1 1176.4 L1175.4 1176.1 L1177.7 1175.8 L1180.1 1175.5 L1182.4 1175.2 L1184.7 1174.9 L1187 1174.6 L1189.3 1174.3 L1191.6 1174 L1193.9 1173.7 L1196.2 1173.4 L1198.5 1173.2 L1200.8 1172.9 L1203.2 1172.6 L1205.5 1172.4 L1207.8 1172.1 L1210.1 1171.9 L1212.4 1171.6 L1214.7 1171.4 L1217 1171.2 L1219.3 1171 L1221.6 1170.8 L1223.9 1170.6 L1226.2 1170.4 L1228.6 1170.2 L1230.9 1170 L1233.2 1169.9 L1235.5 1169.7 L1237.8 1169.5 L1240.1 1169.3 L1242.4 1169.1 L1244.7 1169 L1247 1168.8 L1249.3 1168.6 L1251.7 1168.5 L1254 1168.3 L1256.3 1168.2 L1258.6 1168 L1260.9 1167.9 L1263.2 1167.7 L1265.5 1167.6 L1267.8 1167.5 L1270.1 1167.3 L1272.4 1167.2 L1274.8 1167.1 L1277.1 1167 L1279.4 1166.9 L1281.7 1166.8 L1284 1166.7 L1286.3 1166.6 L1288.6 1166.5 L1290.9 1166.4 L1293.2 1166.4" fill="none" stroke="#BE1E2D" stroke-width="4.9" stroke-linecap="round" stroke-linejoin="round"/>
<circle cx="978.8" cy="1478.9" r="5.6" fill="#BE1E2D"/>
<circle cx="986.5" cy="1413" r="5.6" fill="#BE1E2D"/>
<circle cx="994.1" cy="1353" r="5.6" fill="#BE1E2D"/>
<circle cx="1002.1" cy="1313.8" r="5.6" fill="#BE1E2D"/>
<circle cx="1009.8" cy="1271.5" r="5.6" fill="#BE1E2D"/>
<circle cx="1057" cy="1215.9" r="5.6" fill="#BE1E2D"/>
<circle cx="1136.3" cy="1184.6" r="5.6" fill="#BE1E2D"/>
<circle cx="1294.5" cy="1163.9" r="5.6" fill="#BE1E2D"/>
<text x="1098" y="1340.4" font-size="29.2" fill="#BE1E2D" >H4K16ac<tspan font-size="20.5" dy="9">1–23</tspan><tspan dy="-9" font-size="1">&#8203;</tspan></text>
<text x="1146" y="1587.5" font-size="33" text-anchor="middle" >[H4K16ac peptide] (&#956;M)</text>
<text font-size="33" text-anchor="middle" transform="translate(844 1316) rotate(-90)">Normalized change</text>
<text font-size="33" text-anchor="middle" transform="translate(886 1316) rotate(-90)">in fluorescence</text>
</g>
<g id="panel_e2">
<path d="M1531 1149.6V1478.7H1864.4" fill="none" stroke="#000" stroke-width="3"/>
<line x1="1520" y1="1151.1" x2="1531" y2="1151.1" stroke="#000" stroke-width="3"/>
<text x="1508" y="1162.6" font-size="33" text-anchor="end" >1</text>
<line x1="1520" y1="1315.1" x2="1531" y2="1315.1" stroke="#000" stroke-width="3"/>
<text x="1508" y="1326.6" font-size="33" text-anchor="end" >0.5</text>
<line x1="1520" y1="1478.7" x2="1531" y2="1478.7" stroke="#000" stroke-width="3"/>
<text x="1508" y="1490.2" font-size="33" text-anchor="end" >0</text>
<line x1="1531" y1="1478.7" x2="1531" y2="1489.7" stroke="#000" stroke-width="3"/>
<text x="1531" y="1529.2" font-size="33" text-anchor="middle" >0</text>
<line x1="1620.8" y1="1478.7" x2="1620.8" y2="1489.7" stroke="#000" stroke-width="3"/>
<text x="1620.8" y="1529.2" font-size="33" text-anchor="middle" >20</text>
<line x1="1710.5" y1="1478.7" x2="1710.5" y2="1489.7" stroke="#000" stroke-width="3"/>
<text x="1710.5" y="1529.2" font-size="33" text-anchor="middle" >40</text>
<line x1="1799.8" y1="1478.7" x2="1799.8" y2="1489.7" stroke="#000" stroke-width="3"/>
<text x="1799.8" y="1529.2" font-size="33" text-anchor="middle" >60</text>
<circle cx="1553.1" cy="1433.1" r="5.6" fill="#1B75BC"/>
<circle cx="1575.5" cy="1389.8" r="5.6" fill="#1B75BC"/>
<circle cx="1620.8" cy="1353" r="5.6" fill="#1B75BC"/>
<circle cx="1665.6" cy="1320.9" r="5.6" fill="#1B75BC"/>
<circle cx="1755" cy="1288" r="5.6" fill="#1B75BC"/>
<circle cx="1845.1" cy="1238.5" r="5.6" fill="#1B75BC"/>
<path d="M1531 1478.7 L1533.3 1473.5 L1535.5 1468.5 L1537.7 1463.6 L1540 1458.9 L1542.2 1454.3 L1544.5 1449.8 L1546.7 1445.5 L1548.9 1441.3 L1551.2 1437.2 L1553.4 1433.2 L1555.7 1429.3 L1557.9 1425.6 L1560.1 1421.9 L1562.4 1418.3 L1564.6 1414.8 L1566.9 1411.4 L1569.1 1408.1 L1571.3 1404.9 L1573.6 1401.8 L1575.8 1398.7 L1578.1 1395.7 L1580.3 1392.8 L1582.5 1389.9 L1584.8 1387.1 L1587 1384.4 L1589.3 1381.7 L1591.5 1379.1 L1593.7 1376.6 L1596 1374.1 L1598.2 1371.6 L1600.5 1369.2 L1602.7 1366.9 L1604.9 1364.6 L1607.2 1362.4 L1609.4 1360.2 L1611.7 1358 L1613.9 1355.9 L1616.1 1353.9 L1618.4 1351.8 L1620.6 1349.9 L1622.9 1347.9 L1625.1 1346 L1627.3 1344.1 L1629.6 1342.3 L1631.8 1340.5 L1634.1 1338.7 L1636.3 1337 L1638.5 1335.3 L1640.8 1333.6 L1643 1331.9 L1645.3 1330.3 L1647.5 1328.7 L1649.7 1327.2 L1652 1325.6 L1654.2 1324.1 L1656.5 1322.6 L1658.7 1321.2 L1660.9 1319.7 L1663.2 1318.3 L1665.4 1317 L1667.7 1315.6 L1669.9 1314.2 L1672.1 1312.9 L1674.4 1311.6 L1676.6 1310.3 L1678.9 1309.1 L1681.1 1307.8 L1683.4 1306.6 L1685.6 1305.4 L1687.8 1304.2 L1690.1 1303.1 L1692.3 1301.9 L1694.6 1300.8 L1696.8 1299.7 L1699 1298.6 L1701.3 1297.5 L1703.5 1296.4 L1705.8 1295.3 L1708 1294.3 L1710.2 1293.3 L1712.5 1292.3 L1714.7 1291.3 L1717 1290.3 L1719.2 1289.3 L1721.4 1288.4 L1723.7 1287.4 L1725.9 1286.5 L1728.2 1285.6 L1730.4 1284.7 L1732.6 1283.8 L1734.9 1282.9 L1737.1 1282 L1739.4 1281.2 L1741.6 1280.3 L1743.8 1279.5 L1746.1 1278.6 L1748.3 1277.8 L1750.6 1277 L1752.8 1276.2 L1755 1275.4 L1757.3 1274.7 L1759.5 1273.9 L1761.8 1273.1 L1764 1272.4 L1766.2 1271.6 L1768.5 1270.9 L1770.7 1270.2 L1773 1269.5 L1775.2 1268.8 L1777.4 1268.1 L1779.7 1267.4 L1781.9 1266.7 L1784.2 1266 L1786.4 1265.3 L1788.6 1264.7 L1790.9 1264 L1793.1 1263.4 L1795.4 1262.7 L1797.6 1262.1 L1799.8 1261.5 L1802.1 1260.9 L1804.3 1260.3 L1806.6 1259.7 L1808.8 1259.1 L1811 1258.5 L1813.3 1257.9 L1815.5 1257.3 L1817.8 1256.7 L1820 1256.2 L1822.2 1255.6 L1824.5 1255.1 L1826.7 1254.5 L1829 1254 L1831.2 1253.4 L1833.4 1252.9 L1835.7 1252.4 L1837.9 1251.8 L1840.2 1251.3 L1842.4 1250.8 L1844.6 1250.3" fill="none" stroke="#1B75BC" stroke-width="5.3" stroke-linecap="round" stroke-linejoin="round"/>
<circle cx="1542.2" cy="1416.1" r="5.6" fill="#1AA34A"/>
<circle cx="1553.1" cy="1385.9" r="5.6" fill="#1AA34A"/>
<circle cx="1575.5" cy="1358" r="5.6" fill="#1AA34A"/>
<circle cx="1620.8" cy="1311.2" r="5.6" fill="#1AA34A"/>
<circle cx="1665.6" cy="1282.2" r="5.6" fill="#1AA34A"/>
<circle cx="1755" cy="1226.5" r="5.6" fill="#1AA34A"/>
<circle cx="1845.1" cy="1201" r="5.6" fill="#1AA34A"/>
<path d="M1531 1478.7 L1533.3 1470 L1535.5 1461.7 L1537.7 1453.8 L1540 1446.3 L1542.2 1439.1 L1544.5 1432.3 L1546.7 1425.7 L1548.9 1419.5 L1551.2 1413.5 L1553.4 1407.7 L1555.7 1402.2 L1557.9 1397 L1560.1 1391.9 L1562.4 1387 L1564.6 1382.3 L1566.9 1377.8 L1569.1 1373.4 L1571.3 1369.2 L1573.6 1365.2 L1575.8 1361.2 L1578.1 1357.5 L1580.3 1353.8 L1582.5 1350.3 L1584.8 1346.8 L1587 1343.5 L1589.3 1340.3 L1591.5 1337.2 L1593.7 1334.2 L1596 1331.3 L1598.2 1328.4 L1600.5 1325.7 L1602.7 1323 L1604.9 1320.4 L1607.2 1317.8 L1609.4 1315.4 L1611.7 1313 L1613.9 1310.6 L1616.1 1308.4 L1618.4 1306.2 L1620.6 1304 L1622.9 1301.9 L1625.1 1299.8 L1627.3 1297.9 L1629.6 1295.9 L1631.8 1294 L1634.1 1292.1 L1636.3 1290.3 L1638.5 1288.6 L1640.8 1286.8 L1643 1285.1 L1645.3 1283.5 L1647.5 1281.9 L1649.7 1280.3 L1652 1278.7 L1654.2 1277.2 L1656.5 1275.7 L1658.7 1274.3 L1660.9 1272.9 L1663.2 1271.5 L1665.4 1270.1 L1667.7 1268.8 L1669.9 1267.5 L1672.1 1266.2 L1674.4 1264.9 L1676.6 1263.7 L1678.9 1262.5 L1681.1 1261.3 L1683.4 1260.2 L1685.6 1259 L1687.8 1257.9 L1690.1 1256.8 L1692.3 1255.7 L1694.6 1254.7 L1696.8 1253.6 L1699 1252.6 L1701.3 1251.6 L1703.5 1250.6 L1705.8 1249.6 L1708 1248.7 L1710.2 1247.7 L1712.5 1246.8 L1714.7 1245.9 L1717 1245 L1719.2 1244.1 L1721.4 1243.3 L1723.7 1242.4 L1725.9 1241.6 L1728.2 1240.8 L1730.4 1240 L1732.6 1239.2 L1734.9 1238.4 L1737.1 1237.6 L1739.4 1236.8 L1741.6 1236.1 L1743.8 1235.4 L1746.1 1234.6 L1748.3 1233.9 L1750.6 1233.2 L1752.8 1232.5 L1755 1231.8 L1757.3 1231.2 L1759.5 1230.5 L1761.8 1229.8 L1764 1229.2 L1766.2 1228.5 L1768.5 1227.9 L1770.7 1227.3 L1773 1226.7 L1775.2 1226.1 L1777.4 1225.5 L1779.7 1224.9 L1781.9 1224.3 L1784.2 1223.8 L1786.4 1223.2 L1788.6 1222.6 L1790.9 1222.1 L1793.1 1221.5 L1795.4 1221 L1797.6 1220.5 L1799.8 1220 L1802.1 1219.4 L1804.3 1218.9 L1806.6 1218.4 L1808.8 1217.9 L1811 1217.4 L1813.3 1217 L1815.5 1216.5 L1817.8 1216 L1820 1215.5 L1822.2 1215.1 L1824.5 1214.6 L1826.7 1214.2 L1829 1213.7 L1831.2 1213.3 L1833.4 1212.8 L1835.7 1212.4 L1837.9 1212 L1840.2 1211.6 L1842.4 1211.2 L1844.6 1210.7" fill="none" stroke="#1AA34A" stroke-width="5.3" stroke-linecap="round" stroke-linejoin="round"/>
<path d="M1531 1478.7 L1533.3 1470.8 L1535.5 1463.2 L1537.7 1456 L1540 1449.1 L1542.2 1442.5 L1544.5 1436.1 L1546.7 1430.1 L1548.9 1424.2 L1551.2 1418.6 L1553.4 1413.2 L1555.7 1408 L1557.9 1403 L1560.1 1398.2 L1562.4 1393.5 L1564.6 1389.1 L1566.9 1384.7 L1569.1 1380.6 L1571.3 1376.5 L1573.6 1372.6 L1575.8 1368.8 L1578.1 1365.2 L1580.3 1361.6 L1582.5 1358.2 L1584.8 1354.8 L1587 1351.6 L1589.3 1348.5 L1591.5 1345.4 L1593.7 1342.4 L1596 1339.6 L1598.2 1336.8 L1600.5 1334 L1602.7 1331.4 L1604.9 1328.8 L1607.2 1326.3 L1609.4 1323.9 L1611.7 1321.5 L1613.9 1319.1 L1616.1 1316.9 L1618.4 1314.7 L1620.6 1312.5 L1622.9 1310.4 L1625.1 1308.4 L1627.3 1306.4 L1629.6 1304.4 L1631.8 1302.5 L1634.1 1300.6 L1636.3 1298.8 L1638.5 1297 L1640.8 1295.3 L1643 1293.6 L1645.3 1291.9 L1647.5 1290.2 L1649.7 1288.6 L1652 1287.1 L1654.2 1285.5 L1656.5 1284 L1658.7 1282.6 L1660.9 1281.1 L1663.2 1279.7 L1665.4 1278.3 L1667.7 1276.9 L1669.9 1275.6 L1672.1 1274.3 L1674.4 1273 L1676.6 1271.7 L1678.9 1270.5 L1681.1 1269.3 L1683.4 1268.1 L1685.6 1266.9 L1687.8 1265.8 L1690.1 1264.6 L1692.3 1263.5 L1694.6 1262.4 L1696.8 1261.4 L1699 1260.3 L1701.3 1259.3 L1703.5 1258.3 L1705.8 1257.3 L1708 1256.3 L1710.2 1255.3 L1712.5 1254.4 L1714.7 1253.4 L1717 1252.5 L1719.2 1251.6 L1721.4 1250.7 L1723.7 1249.8 L1725.9 1248.9 L1728.2 1248.1 L1730.4 1247.2 L1732.6 1246.4 L1734.9 1245.6 L1737.1 1244.8 L1739.4 1244 L1741.6 1243.2 L1743.8 1242.5 L1746.1 1241.7 L1748.3 1241 L1750.6 1240.2 L1752.8 1239.5 L1755 1238.8 L1757.3 1238.1 L1759.5 1237.4 L1761.8 1236.7 L1764 1236 L1766.2 1235.4 L1768.5 1234.7 L1770.7 1234 L1773 1233.4 L1775.2 1232.8 L1777.4 1232.2 L1779.7 1231.5 L1781.9 1230.9 L1784.2 1230.3 L1786.4 1229.7 L1788.6 1229.2 L1790.9 1228.6 L1793.1 1228 L1795.4 1227.4 L1797.6 1226.9 L1799.8 1226.3 L1802.1 1225.8 L1804.3 1225.3 L1806.6 1224.7 L1808.8 1224.2 L1811 1223.7 L1813.3 1223.2 L1815.5 1222.7 L1817.8 1222.2 L1820 1221.7 L1822.2 1221.2 L1824.5 1220.7 L1826.7 1220.3 L1829 1219.8 L1831.2 1219.3 L1833.4 1218.9 L1835.7 1218.4 L1837.9 1218 L1840.2 1217.5 L1842.4 1217.1 L1844.6 1216.6" fill="none" stroke="#000" stroke-width="5.3" stroke-linecap="round" stroke-linejoin="round"/>
<circle cx="1531" cy="1478.7" r="5.6" fill="#000"/>
<circle cx="1542.2" cy="1445.8" r="5.6" fill="#000"/>
<circle cx="1553.1" cy="1398.7" r="5.6" fill="#000"/>
<circle cx="1575.5" cy="1356.9" r="5.6" fill="#000"/>
<circle cx="1620.8" cy="1315.1" r="5.6" fill="#000"/>
<circle cx="1665.6" cy="1272.6" r="5.6" fill="#000"/>
<circle cx="1755" cy="1242" r="5.6" fill="#000"/>
<circle cx="1845.1" cy="1211.8" r="5.6" fill="#000"/>
<text x="1678" y="1366.6" font-size="29.2" >H4<tspan font-size="20.5" dy="9">1–23</tspan><tspan dy="-9" font-size="1">&#8203;</tspan></text>
<text x="1678" y="1410.3" font-size="29.2" fill="#1B75BC" >H4K20ac<tspan font-size="20.5" dy="9">1–23</tspan><tspan dy="-9" font-size="1">&#8203;</tspan></text>
<text x="1678" y="1453.6" font-size="29.2" fill="#1AA34A" >H4K12ac<tspan font-size="20.5" dy="9">1–23</tspan><tspan dy="-9" font-size="1">&#8203;</tspan></text>
<text x="1701" y="1586.8" font-size="33" text-anchor="middle" >[H4 peptide] (&#956;M)</text>
<text font-size="33" text-anchor="middle" transform="translate(1394 1316) rotate(-90)">Normalized change</text>
<text font-size="33" text-anchor="middle" transform="translate(1435 1316) rotate(-90)">in fluorescence</text>
</g>
<g id="panel_f">
<text x="310.6" y="1827.3" font-size="33.4" text-anchor="middle" >Binding affinities of MLL4-PHD6</text>
<text x="310.6" y="1866.9" font-size="33.4" text-anchor="middle" >measured by fluorescence</text>
<rect x="39.2" y="1893.6" width="545.7" height="334.8" fill="none" stroke="#000" stroke-width="3"/>
<line x1="39.2" y1="1971.3" x2="584.9" y2="1971.3" stroke="#000" stroke-width="3.4"/>
<text x="109.9" y="1944.6" font-size="33" >H4<tspan font-size="25" dy="9">1–23</tspan><tspan dy="-9" font-size="1">&#8203;</tspan></text>
<text x="393.7" y="1944.6" font-size="33" >K<tspan font-size="25" dy="9">d</tspan><tspan dy="-9" font-size="1">&#8203;</tspan> (&#956;M)</text>
<text x="90.8" y="2024" font-size="33" >H4K16ac</text>
<text x="450.9" y="2024" font-size="33" text-anchor="middle" >1.1 &#177; 0.2</text>
<text x="90.8" y="2084.8" font-size="33" >H4</text>
<text x="450.9" y="2084.8" font-size="33" text-anchor="middle" >14 &#177; 4</text>
<text x="90.8" y="2144.9" font-size="33" >H4K20ac</text>
<text x="450.9" y="2144.9" font-size="33" text-anchor="middle" >28 &#177; 4</text>
<text x="90.8" y="2204.6" font-size="33" >H4K12ac</text>
<text x="450.9" y="2204.6" font-size="33" text-anchor="middle" >12 &#177; 4</text>
</g>
<g id="panel_g">
<circle cx="836.9" cy="1738.5" r="7.2" fill="#FF2A0A"/>
<circle cx="836.9" cy="1796" r="7.2" fill="#000"/>
<text x="859.9" y="1750.6" font-size="33" word-spacing="1">H4K16ac<tspan font-size="25" dy="9">1–23</tspan><tspan dy="-9" font-size="1">&#8203;</tspan> <tspan font-style="italic">K</tspan><tspan font-size="25" dy="9">d</tspan><tspan dy="-9" font-size="1">&#8203;</tspan> = 2.1 &#177; 0.4 &#956;M</text>
<text x="859.9" y="1806.9" font-size="33" word-spacing="1">H4<tspan font-size="25" dy="9">1–23</tspan><tspan dy="-9" font-size="1">&#8203;</tspan> <tspan font-style="italic">K</tspan><tspan font-size="25" dy="9">d</tspan><tspan dy="-9" font-size="1">&#8203;</tspan> = 17 &#177; 7 &#956;M</text>
<path d="M803.2 1837.2V2202.9H1353.3" fill="none" stroke="#000" stroke-width="3"/>
<line x1="792.2" y1="2184.3" x2="803.2" y2="2184.3" stroke="#000" stroke-width="3"/>
<text x="777.7" y="2195.8" font-size="33" text-anchor="end" >0.0</text>
<line x1="792.2" y1="2116.2" x2="803.2" y2="2116.2" stroke="#000" stroke-width="3"/>
<text x="777.7" y="2127.7" font-size="33" text-anchor="end" >0.2</text>
<line x1="792.2" y1="2048.1" x2="803.2" y2="2048.1" stroke="#000" stroke-width="3"/>
<text x="777.7" y="2059.6" font-size="33" text-anchor="end" >0.4</text>
<line x1="792.2" y1="1979.9" x2="803.2" y2="1979.9" stroke="#000" stroke-width="3"/>
<text x="777.7" y="1991.4" font-size="33" text-anchor="end" >0.6</text>
<line x1="792.2" y1="1911.8" x2="803.2" y2="1911.8" stroke="#000" stroke-width="3"/>
<text x="777.7" y="1923.3" font-size="33" text-anchor="end" >0.8</text>
<line x1="792.2" y1="1843.7" x2="803.2" y2="1843.7" stroke="#000" stroke-width="3"/>
<text x="777.7" y="1855.2" font-size="33" text-anchor="end" >1.0</text>
<line x1="813.2" y1="2202.9" x2="813.2" y2="2208.4" stroke="#000" stroke-width="2.7"/>
<line x1="830.1" y1="2202.9" x2="830.1" y2="2208.4" stroke="#000" stroke-width="2.7"/>
<line x1="843.8" y1="2202.9" x2="843.8" y2="2208.4" stroke="#000" stroke-width="2.7"/>
<line x1="855.5" y1="2202.9" x2="855.5" y2="2208.4" stroke="#000" stroke-width="2.7"/>
<line x1="865.6" y1="2202.9" x2="865.6" y2="2208.4" stroke="#000" stroke-width="2.7"/>
<line x1="874.4" y1="2202.9" x2="874.4" y2="2208.4" stroke="#000" stroke-width="2.7"/>
<line x1="882.4" y1="2202.9" x2="882.4" y2="2213.9" stroke="#000" stroke-width="3"/>
<line x1="934.7" y1="2202.9" x2="934.7" y2="2208.4" stroke="#000" stroke-width="2.7"/>
<line x1="965.3" y1="2202.9" x2="965.3" y2="2208.4" stroke="#000" stroke-width="2.7"/>
<line x1="987" y1="2202.9" x2="987" y2="2208.4" stroke="#000" stroke-width="2.7"/>
<line x1="1003.9" y1="2202.9" x2="1003.9" y2="2208.4" stroke="#000" stroke-width="2.7"/>
<line x1="1017.6" y1="2202.9" x2="1017.6" y2="2208.4" stroke="#000" stroke-width="2.7"/>
<line x1="1029.3" y1="2202.9" x2="1029.3" y2="2208.4" stroke="#000" stroke-width="2.7"/>
<line x1="1039.3" y1="2202.9" x2="1039.3" y2="2208.4" stroke="#000" stroke-width="2.7"/>
<line x1="1048.2" y1="2202.9" x2="1048.2" y2="2208.4" stroke="#000" stroke-width="2.7"/>
<line x1="1056.2" y1="2202.9" x2="1056.2" y2="2213.9" stroke="#000" stroke-width="3"/>
<line x1="1108.5" y1="2202.9" x2="1108.5" y2="2208.4" stroke="#000" stroke-width="2.7"/>
<line x1="1139.1" y1="2202.9" x2="1139.1" y2="2208.4" stroke="#000" stroke-width="2.7"/>
<line x1="1160.8" y1="2202.9" x2="1160.8" y2="2208.4" stroke="#000" stroke-width="2.7"/>
<line x1="1177.7" y1="2202.9" x2="1177.7" y2="2208.4" stroke="#000" stroke-width="2.7"/>
<line x1="1191.4" y1="2202.9" x2="1191.4" y2="2208.4" stroke="#000" stroke-width="2.7"/>
<line x1="1203.1" y1="2202.9" x2="1203.1" y2="2208.4" stroke="#000" stroke-width="2.7"/>
<line x1="1213.1" y1="2202.9" x2="1213.1" y2="2208.4" stroke="#000" stroke-width="2.7"/>
<line x1="1222" y1="2202.9" x2="1222" y2="2208.4" stroke="#000" stroke-width="2.7"/>
<line x1="1230" y1="2202.9" x2="1230" y2="2213.9" stroke="#000" stroke-width="3"/>
<line x1="1282.3" y1="2202.9" x2="1282.3" y2="2208.4" stroke="#000" stroke-width="2.7"/>
<line x1="1312.9" y1="2202.9" x2="1312.9" y2="2208.4" stroke="#000" stroke-width="2.7"/>
<line x1="1334.6" y1="2202.9" x2="1334.6" y2="2208.4" stroke="#000" stroke-width="2.7"/>
<line x1="1351.5" y1="2202.9" x2="1351.5" y2="2208.4" stroke="#000" stroke-width="2.7"/>
<text x="884.6" y="2264" font-size="33" text-anchor="middle" >1&#215;10<tspan font-size="23" dy="-13">&#8722;6</tspan><tspan dy="13" font-size="1">&#8203;</tspan></text>
<text x="1058.6" y="2264" font-size="33" text-anchor="middle" >1&#215;10<tspan font-size="23" dy="-13">&#8722;5</tspan><tspan dy="13" font-size="1">&#8203;</tspan></text>
<text x="1232.1" y="2264" font-size="33" text-anchor="middle" >1&#215;10<tspan font-size="23" dy="-13">&#8722;4</tspan><tspan dy="13" font-size="1">&#8203;</tspan></text>
<text x="1074.5" y="2314" font-size="33.4" text-anchor="middle" >H4 peptide concentration (M)</text>
<text font-size="33" text-anchor="middle" transform="translate(708 2012.5) rotate(-90)">Fraction bound</text>
<text x="838.2" y="1897.8" font-size="33" >MST</text>
<path d="M803.2 2179.3 L807.6 2179 L812 2178.7 L816.4 2178.4 L820.9 2178 L825.3 2177.6 L829.7 2177.3 L834.2 2176.8 L838.6 2176.4 L843 2175.9 L847.4 2175.4 L851.9 2174.9 L856.3 2174.4 L860.7 2173.8 L865.2 2173.2 L869.6 2172.5 L874 2171.8 L878.4 2171.1 L882.9 2170.3 L887.3 2169.5 L891.7 2168.7 L896.2 2167.8 L900.6 2166.8 L905 2165.8 L909.5 2164.8 L913.9 2163.7 L918.3 2162.5 L922.7 2161.3 L927.2 2160 L931.6 2158.6 L936 2157.2 L940.5 2155.7 L944.9 2154.1 L949.3 2152.4 L953.7 2150.7 L958.2 2148.9 L962.6 2147 L967 2145 L971.5 2142.9 L975.9 2140.7 L980.3 2138.4 L984.7 2136 L989.2 2133.6 L993.6 2131 L998 2128.3 L1002.5 2125.5 L1006.9 2122.6 L1011.3 2119.5 L1015.7 2116.4 L1020.2 2113.2 L1024.6 2109.8 L1029 2106.3 L1033.5 2102.7 L1037.9 2099 L1042.3 2095.2 L1046.7 2091.3 L1051.2 2087.3 L1055.6 2083.2 L1060 2079 L1064.5 2074.6 L1068.9 2070.2 L1073.3 2065.7 L1077.7 2061.2 L1082.2 2056.5 L1086.6 2051.8 L1091 2047 L1095.5 2042.2 L1099.9 2037.3 L1104.3 2032.4 L1108.7 2027.4 L1113.2 2022.4 L1117.6 2017.5 L1122 2012.5 L1126.5 2007.5 L1130.9 2002.5 L1135.3 1997.5 L1139.7 1992.6 L1144.2 1987.7 L1148.6 1982.8 L1153 1978 L1157.5 1973.3 L1161.9 1968.6 L1166.3 1964 L1170.7 1959.5 L1175.2 1955 L1179.6 1950.7 L1184 1946.4 L1188.5 1942.3 L1192.9 1938.2 L1197.3 1934.2 L1201.7 1930.4 L1206.2 1926.7 L1210.6 1923 L1215 1919.5 L1219.5 1916.1 L1223.9 1912.8 L1228.3 1909.6 L1232.7 1906.6 L1237.2 1903.6 L1241.6 1900.8 L1246 1898 L1250.5 1895.4 L1254.9 1892.9 L1259.3 1890.5 L1263.8 1888.2 L1268.2 1885.9 L1272.6 1883.8 L1277 1881.8 L1281.5 1879.8 L1285.9 1878 L1290.3 1876.2 L1294.8 1874.5 L1299.2 1872.9 L1303.6 1871.4 L1308 1869.9 L1312.5 1868.5 L1316.9 1867.2 L1321.3 1866 L1325.8 1864.8 L1330.2 1863.6 L1334.6 1862.6" fill="none" stroke="#000" stroke-width="4.9" stroke-linecap="round" stroke-linejoin="round"/>
<path d="M969 2110.7V2195.1M960.2 2110.7h17.6M960.2 2195.1h17.6" fill="none" stroke="#000" stroke-width="3"/>
<circle cx="969" cy="2154.5" r="7.3" fill="#000"/>
<path d="M1020.9 2083V2151M1012.1 2083h17.6M1012.1 2151h17.6" fill="none" stroke="#000" stroke-width="3"/>
<circle cx="1020.9" cy="2117.2" r="7.3" fill="#000"/>
<path d="M1073.7 2007.3V2044.9M1064.9 2007.3h17.6M1064.9 2044.9h17.6" fill="none" stroke="#000" stroke-width="3"/>
<circle cx="1073.7" cy="2026.3" r="7.3" fill="#000"/>
<path d="M1125.7 2032V2047.1M1116.9 2032h17.6M1116.9 2047.1h17.6" fill="none" stroke="#000" stroke-width="3"/>
<circle cx="1125.7" cy="2039.3" r="7.3" fill="#000"/>
<path d="M1178 1932.4V1953.2M1169.2 1932.4h17.6M1169.2 1953.2h17.6" fill="none" stroke="#000" stroke-width="3"/>
<circle cx="1178" cy="1943.2" r="7.3" fill="#000"/>
<path d="M1230.8 1902.1V1944.5M1222 1902.1h17.6M1222 1944.5h17.6" fill="none" stroke="#000" stroke-width="3"/>
<circle cx="1230.8" cy="1922.9" r="7.3" fill="#000"/>
<path d="M1282.8 1849.3V1911.6M1274 1849.3h17.6M1274 1911.6h17.6" fill="none" stroke="#000" stroke-width="3"/>
<circle cx="1282.8" cy="1880.5" r="7.3" fill="#000"/>
<path d="M1335.6 1838V1867.5M1326.8 1838h17.6M1326.8 1867.5h17.6" fill="none" stroke="#000" stroke-width="3"/>
<circle cx="1335.6" cy="1853.2" r="7.3" fill="#000"/>
<path d="M811.3 2144.5 L815.2 2142.7 L819.1 2140.8 L823.1 2138.7 L827 2136.7 L830.9 2134.5 L834.8 2132.3 L838.7 2129.9 L842.6 2127.5 L846.5 2125 L850.4 2122.5 L854.3 2119.8 L858.2 2117 L862.1 2114.2 L866.1 2111.3 L870 2108.3 L873.9 2105.1 L877.8 2102 L881.7 2098.7 L885.6 2095.3 L889.5 2091.9 L893.4 2088.3 L897.3 2084.7 L901.2 2081 L905.1 2077.3 L909 2073.4 L913 2069.5 L916.9 2065.6 L920.8 2061.5 L924.7 2057.4 L928.6 2053.3 L932.5 2049.1 L936.4 2044.8 L940.3 2040.5 L944.2 2036.2 L948.1 2031.9 L952 2027.5 L956 2023.1 L959.9 2018.7 L963.8 2014.3 L967.7 2009.9 L971.6 2005.5 L975.5 2001.1 L979.4 1996.7 L983.3 1992.4 L987.2 1988 L991.1 1983.8 L995 1979.5 L999 1975.3 L1002.9 1971.1 L1006.8 1967 L1010.7 1963 L1014.6 1959 L1018.5 1955.1 L1022.4 1951.2 L1026.3 1947.5 L1030.2 1943.8 L1034.1 1940.1 L1038 1936.6 L1041.9 1933.1 L1045.9 1929.8 L1049.8 1926.5 L1053.7 1923.3 L1057.6 1920.2 L1061.5 1917.1 L1065.4 1914.2 L1069.3 1911.3 L1073.2 1908.6 L1077.1 1905.9 L1081 1903.3 L1084.9 1900.8 L1088.9 1898.4 L1092.8 1896 L1096.7 1893.8 L1100.6 1891.6 L1104.5 1889.5 L1108.4 1887.5 L1112.3 1885.6 L1116.2 1883.7 L1120.1 1881.9 L1124 1880.2 L1127.9 1878.5 L1131.8 1876.9 L1135.8 1875.4 L1139.7 1874 L1143.6 1872.6 L1147.5 1871.2 L1151.4 1869.9 L1155.3 1868.7 L1159.2 1867.5 L1163.1 1866.4 L1167 1865.3 L1170.9 1864.3 L1174.8 1863.3 L1178.8 1862.4 L1182.7 1861.5 L1186.6 1860.6 L1190.5 1859.8 L1194.4 1859 L1198.3 1858.3 L1202.2 1857.6 L1206.1 1856.9 L1210 1856.3 L1213.9 1855.7 L1217.8 1855.1 L1221.8 1854.5 L1225.7 1854 L1229.6 1853.5 L1233.5 1853 L1237.4 1852.5 L1241.3 1852.1 L1245.2 1851.7 L1249.1 1851.3 L1253 1850.9 L1256.9 1850.6 L1260.8 1850.2 L1264.7 1849.9 L1268.7 1849.6 L1272.6 1849.3 L1276.5 1849 L1280.4 1848.7" fill="none" stroke="#FF2A0A" stroke-width="4.9" stroke-linecap="round" stroke-linejoin="round"/>
<path d="M862.9 2091.3V2148.8M854.1 2091.3h17.6M854.1 2148.8h17.6" fill="none" stroke="#FF2A0A" stroke-width="3"/>
<circle cx="862.9" cy="2119.8" r="7.3" fill="#FF2A0A"/>
<path d="M917 1986.5V2124.2M908.2 1986.5h17.6M908.2 2124.2h17.6" fill="none" stroke="#FF2A0A" stroke-width="3"/>
<circle cx="917" cy="2055.8" r="7.3" fill="#FF2A0A"/>
<path d="M969 1990V2024.2M960.2 1990h17.6M960.2 2024.2h17.6" fill="none" stroke="#FF2A0A" stroke-width="3"/>
<circle cx="969" cy="2008.1" r="7.3" fill="#FF2A0A"/>
<path d="M1020.9 1940.2V1964M1012.1 1940.2h17.6M1012.1 1964h17.6" fill="none" stroke="#FF2A0A" stroke-width="3"/>
<circle cx="1020.9" cy="1952.7" r="7.3" fill="#FF2A0A"/>
<path d="M1073.7 1906.4V1930.2M1064.9 1906.4h17.6M1064.9 1930.2h17.6" fill="none" stroke="#FF2A0A" stroke-width="3"/>
<circle cx="1073.7" cy="1918.1" r="7.3" fill="#FF2A0A"/>
<path d="M1125.7 1868.8V1897.8M1116.9 1868.8h17.6M1116.9 1897.8h17.6" fill="none" stroke="#FF2A0A" stroke-width="3"/>
<circle cx="1125.7" cy="1883.5" r="7.3" fill="#FF2A0A"/>
<path d="M1178 1840.2V1892.1M1169.2 1840.2h17.6M1169.2 1892.1h17.6" fill="none" stroke="#FF2A0A" stroke-width="3"/>
<circle cx="1178" cy="1866.2" r="7.3" fill="#FF2A0A"/>
<circle cx="1230.8" cy="1842.4" r="7.3" fill="#FF2A0A"/>
</g>
<g id="panel_h">
<text x="1501.3" y="1888.1" font-size="33" >H4</text>
<text x="1501.3" y="1928.5" font-size="33" >tail</text>
<text x="1734.1" y="1884.7" font-size="33" >K16</text>
<path d="M1552.8 1875.9C1559.3 1874.4 1578.9 1868.8 1591.6 1866.8C1604.2 1864.9 1616.8 1864.7 1628.6 1864.5C1640.4 1864.3 1652.2 1864.2 1662.3 1865.8C1672.4 1867.5 1679.7 1869.9 1689.3 1874.6" fill="none" stroke="#5A5048" stroke-width="7.4"/>
<path d="M1552.8 1875.9C1559.3 1874.4 1578.9 1868.8 1591.6 1866.8C1604.2 1864.9 1616.8 1864.7 1628.6 1864.5C1640.4 1864.3 1652.2 1864.2 1662.3 1865.8C1672.4 1867.5 1679.7 1869.9 1689.3 1874.6" fill="none" stroke="#857A70" stroke-width="3.0"/>
<path d="M1689.3 1874.6C1698.8 1879.3 1710.6 1889 1719.6 1893.8C1728.6 1898.6 1735.3 1901.3 1743.2 1903.2C1751 1905.2 1757.8 1906 1766.7 1905.6C1775.7 1905.1 1787 1902.6 1797.1 1900.5C1807.2 1898.5 1818.1 1894.6 1827.4 1893.1C1836.6 1891.6 1844.8 1890.5 1852.6 1891.4" fill="none" stroke="#5A5048" stroke-width="5.2"/>
<path d="M1689.3 1874.6C1698.8 1879.3 1710.6 1889 1719.6 1893.8C1728.6 1898.6 1735.3 1901.3 1743.2 1903.2C1751 1905.2 1757.8 1906 1766.7 1905.6C1775.7 1905.1 1787 1902.6 1797.1 1900.5C1807.2 1898.5 1818.1 1894.6 1827.4 1893.1C1836.6 1891.6 1844.8 1890.5 1852.6 1891.4" fill="none" stroke="#857A70" stroke-width="2.1"/>
<path d="M1852.6 1891.4C1860.5 1892.4 1867 1894.8 1874.5 1898.8C1882.1 1902.9 1889.7 1910.1 1898.1 1915.7C1906.5 1921.3 1916.6 1928.6 1925.1 1932.5C1933.5 1936.5 1941.3 1937.9 1948.6 1939.3C1955.9 1940.7 1965.5 1940.7 1968.9 1941" fill="none" stroke="#5A5048" stroke-width="7.4"/>
<path d="M1852.6 1891.4C1860.5 1892.4 1867 1894.8 1874.5 1898.8C1882.1 1902.9 1889.7 1910.1 1898.1 1915.7C1906.5 1921.3 1916.6 1928.6 1925.1 1932.5C1933.5 1936.5 1941.3 1937.9 1948.6 1939.3C1955.9 1940.7 1965.5 1940.7 1968.9 1941" fill="none" stroke="#857A70" stroke-width="3.0"/>
<clipPath id="blobclip"><ellipse cx="1751.6" cy="2037" rx="124.3" ry="99"/></clipPath>
<mask id="notch"><rect x="1440" y="1690" width="607" height="632" fill="#fff"/><circle cx="1749.2" cy="1956.1" r="53.6" fill="#000"/></mask>
<g mask="url(#notch)"><ellipse cx="1754.2" cy="2038.6" rx="121.3" ry="96" fill="#000"/>
<ellipse cx="1751.6" cy="2037" rx="121.3" ry="96" fill="#E6B9B8" stroke="#000" stroke-width="2.2"/></g>
<circle cx="1749.2" cy="1956.1" r="53.6" fill="none" stroke="#000" stroke-width="2.2" clip-path="url(#blobclip)"/>
<circle cx="1749.2" cy="1953.8" r="42.1" fill="#FF5A00" stroke="#000" stroke-width="2.4"/>
<text x="1749.9" y="1962.8" font-size="33" text-anchor="middle" >ac</text>
<text x="1755" y="2055.5" font-size="33" text-anchor="middle" >MLL4-</text>
<text x="1755.6" y="2095.9" font-size="33" text-anchor="middle" >PHD6</text>
</g>
<g id="labels">
<text x="0" y="32" font-size="41" font-weight="bold" >a</text>
<text x="715" y="31" font-size="41" font-weight="bold" >b</text>
<text x="0" y="513" font-size="41" font-weight="bold" >c</text>
<text x="0" y="1130" font-size="41" font-weight="bold" >d</text>
<text x="816" y="1130" font-size="41" font-weight="bold" >e</text>
<text x="0" y="1735" font-size="41" font-weight="bold" >f</text>
<text x="679.5" y="1735.8" font-size="41" font-weight="bold" >g</text>
<text x="1492.6" y="1734.6" font-size="41" font-weight="bold" >h</text>
</g>
</svg></body></html>
